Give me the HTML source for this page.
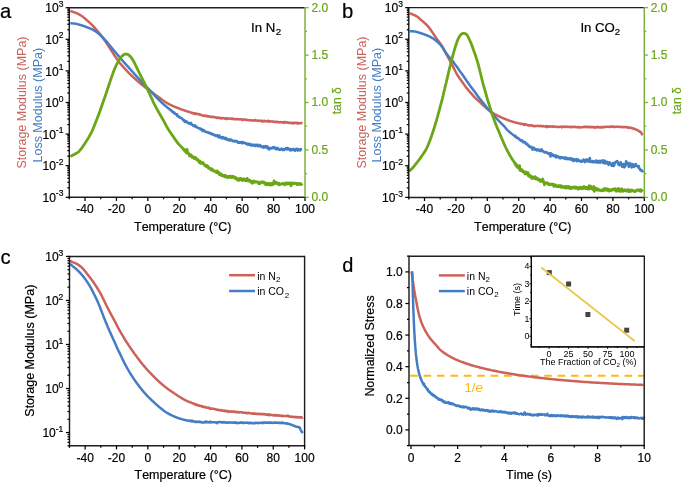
<!DOCTYPE html>
<html><head><meta charset="utf-8"><style>html,body{margin:0;padding:0;background:#fff;width:685px;height:483px;overflow:hidden}svg{display:block}</style></head>
<body><div style="will-change:transform">
<svg width="685" height="483" viewBox="0 0 685 483" font-family="'Liberation Sans', sans-serif" style="font-kerning:none">
<rect width="685" height="483" fill="#fff"/>
<path d="M70.3 10.9 L70.72 11.05 L71.15 11.21 L71.57 11.36 L71.99 11.51 L72.42 11.67 L72.84 11.82 L73.26 11.97 L73.68 12.13 L74.11 12.28 L74.53 12.43 L74.96 12.57 L75.39 12.71 L75.81 12.87 L76.23 13.03 L76.65 13.2 L77.06 13.38 L77.46 13.58 L77.86 13.78 L78.26 13.98 L78.66 14.19 L79.06 14.41 L79.45 14.62 L79.85 14.84 L80.24 15.07 L80.62 15.3 L81 15.54 L81.38 15.78 L81.76 16.03 L82.13 16.29 L82.49 16.55 L82.85 16.82 L83.2 17.1 L83.55 17.38 L83.9 17.67 L84.25 17.96 L84.59 18.25 L84.93 18.55 L85.27 18.84 L85.61 19.14 L85.95 19.43 L86.29 19.73 L86.63 20.02 L86.97 20.32 L87.31 20.61 L87.65 20.9 L87.99 21.19 L88.33 21.49 L88.67 21.78 L89.01 22.08 L89.35 22.38 L89.68 22.68 L90.02 22.98 L90.35 23.29 L90.68 23.59 L91 23.91 L91.32 24.22 L91.64 24.54 L91.95 24.86 L92.27 25.18 L92.58 25.51 L92.89 25.84 L93.19 26.17 L93.5 26.5 L93.8 26.83 L94.1 27.16 L94.41 27.5 L94.71 27.83 L95 28.17 L95.3 28.51 L95.6 28.84 L95.9 29.18 L96.19 29.52 L96.49 29.86 L96.78 30.2 L97.08 30.54 L97.37 30.88 L97.67 31.22 L97.96 31.56 L98.25 31.91 L98.54 32.25 L98.83 32.6 L99.11 32.95 L99.4 33.29 L99.68 33.64 L99.96 34 L100.24 34.35 L100.52 34.7 L100.79 35.06 L101.07 35.42 L101.34 35.77 L101.61 36.13 L101.88 36.5 L102.14 36.86 L102.41 37.22 L102.68 37.58 L102.94 37.95 L103.2 38.31 L103.46 38.68 L103.72 39.05 L103.98 39.41 L104.24 39.78 L104.5 40.15 L104.76 40.52 L105.02 40.89 L105.27 41.26 L105.53 41.63 L105.78 42 L106.03 42.37 L106.28 42.75 L106.53 43.12 L106.78 43.5 L107.03 43.87 L107.27 44.25 L107.52 44.63 L107.77 45 L108.01 45.38 L108.25 45.76 L108.5 46.14 L108.74 46.52 L108.99 46.89 L109.23 47.27 L109.48 47.65 L109.72 48.03 L109.97 48.4 L110.21 48.78 L110.46 49.16 L110.7 49.54 L110.94 49.92 L111.18 50.3 L111.43 50.68 L111.67 51.06 L111.91 51.44 L112.15 51.81 L112.39 52.19 L112.63 52.57 L112.88 52.95 L113.12 53.33 L113.36 53.71 L113.61 54.09 L113.85 54.47 L114.1 54.84 L114.35 55.22 L114.59 55.59 L114.84 55.97 L115.1 56.34 L115.35 56.71 L115.6 57.09 L115.85 57.46 L116.11 57.83 L116.36 58.2 L116.62 58.57 L116.87 58.94 L117.13 59.31 L117.39 59.68 L117.65 60.05 L117.91 60.41 L118.17 60.78 L118.44 61.14 L118.71 61.5 L118.98 61.86 L119.25 62.22 L119.53 62.58 L119.8 62.93 L120.09 63.28 L120.37 63.63 L120.66 63.97 L120.95 64.31 L121.25 64.65 L121.55 64.99 L121.85 65.33 L122.15 65.66 L122.45 65.99 L122.76 66.32 L123.06 66.65 L123.37 66.98 L123.67 67.31 L123.98 67.65 L124.28 67.98 L124.58 68.31 L124.88 68.65 L125.18 68.98 L125.49 69.32 L125.79 69.65 L126.09 69.98 L126.39 70.32 L126.69 70.65 L127 70.98 L127.3 71.31 L127.61 71.64 L127.92 71.97 L128.23 72.3 L128.54 72.62 L128.85 72.95 L129.17 73.27 L129.48 73.59 L129.8 73.9 L130.12 74.22 L130.44 74.54 L130.77 74.85 L131.09 75.16 L131.42 75.47 L131.75 75.78 L132.07 76.08 L132.4 76.39 L132.73 76.7 L133.06 77 L133.39 77.31 L133.72 77.61 L134.06 77.92 L134.39 78.22 L134.72 78.53 L135.05 78.83 L135.39 79.13 L135.72 79.43 L136.06 79.73 L136.39 80.03 L136.73 80.33 L137.07 80.63 L137.41 80.92 L137.74 81.22 L138.08 81.51 L138.43 81.81 L138.77 82.1 L139.11 82.39 L139.45 82.69 L139.79 82.98 L140.14 83.27 L140.48 83.56 L140.83 83.84 L141.18 84.13 L141.52 84.42 L141.87 84.7 L142.22 84.98 L142.57 85.26 L142.93 85.54 L143.28 85.82 L143.64 86.09 L144 86.37 L144.36 86.63 L144.72 86.9 L145.08 87.17 L145.45 87.43 L145.81 87.7 L146.18 87.96 L146.54 88.22 L146.9 88.49 L147.27 88.75 L147.63 89.02 L147.99 89.29 L148.35 89.56 L148.71 89.83 L149.07 90.1 L149.44 90.36 L149.8 90.63 L150.16 90.9 L150.52 91.17 L150.88 91.44 L151.24 91.71 L151.6 91.98 L151.96 92.25 L152.32 92.52 L152.68 92.79 L153.04 93.05 L153.4 93.32 L153.76 93.59 L154.12 93.86 L154.48 94.13 L154.84 94.4 L155.2 94.67 L155.57 94.94 L155.93 95.21 L156.29 95.48 L156.65 95.74 L157.01 96.01 L157.38 96.28 L157.74 96.54 L158.11 96.8 L158.47 97.07 L158.84 97.33 L159.2 97.59 L159.57 97.85 L159.93 98.11 L160.3 98.38 L160.67 98.64 L161.03 98.9 L161.4 99.16 L161.77 99.42 L162.13 99.68 L162.5 99.95 L162.86 100.21 L163.22 100.48 L163.59 100.74 L163.95 101.01 L164.32 101.27 L164.69 101.53 L165.06 101.78 L165.43 102.03 L165.81 102.28 L166.19 102.52 L166.57 102.75 L166.96 102.98 L167.35 103.21 L167.74 103.44 L168.13 103.66 L168.52 103.87 L168.92 104.09 L169.32 104.3 L169.72 104.5 L170.12 104.71 L170.52 104.91 L170.92 105.11 L171.33 105.3 L171.74 105.49 L172.15 105.68 L172.56 105.86 L172.97 106.04 L173.39 106.22 L173.8 106.39 L174.21 106.57 L174.63 106.74 L175.04 106.92 L175.46 107.09 L175.87 107.27 L176.29 107.44 L176.71 107.61 L177.12 107.77 L177.54 107.94 L177.96 108.11 L178.38 108.27 L178.8 108.43 L179.22 108.59 L179.64 108.75 L180.06 108.91 L180.48 109.07 L180.91 109.22 L181.33 109.37 L181.75 109.52 L182.18 109.67 L182.6 109.82 L183.03 109.97 L183.45 110.12 L183.88 110.26 L184.31 110.4 L184.73 110.54 L185.16 110.69 L185.59 110.82 L186.02 110.96 L186.45 111.1 L186.88 111.24 L187.3 111.37 L187.73 111.51 L188.16 111.64 L188.59 111.77 L189.02 111.91 L189.45 112.04 L189.88 112.18 L190.31 112.35 L190.74 112.54 L191.17 112.53 L191.6 112.92 L192.03 112.79 L192.46 112.92 L192.89 113.35 L193.33 113.58 L193.76 113.46 L194.2 113.2 L194.63 113.27 L195.07 113.98 L195.51 113.53 L195.94 113.55 L196.38 113.7 L196.82 113.99 L197.26 114.03 L197.7 113.88 L198.14 114.33 L198.58 114.05 L199.02 114.18 L199.46 114.38 L199.89 114.34 L200.33 114.95 L200.77 114.8 L201.21 114.97 L201.65 115 L202.09 115.21 L202.53 115.17 L202.97 115.76 L203.41 115.73 L203.85 115.68 L204.29 115.57 L204.73 116.03 L205.17 115.77 L205.61 115.8 L206.06 115.64 L206.5 116.22 L206.94 115.81 L207.39 116.42 L207.83 116.3 L208.28 116.19 L208.72 116.23 L209.17 116.76 L209.61 116.46 L210.06 116.82 L210.5 116.87 L210.95 116.89 L211.39 116.68 L211.84 116.96 L212.28 116.78 L212.73 117.08 L213.17 117.08 L213.62 117.17 L214.06 116.93 L214.51 117.03 L214.95 117.19 L215.4 117.35 L215.84 117.7 L216.29 117.57 L216.74 117.88 L217.19 117.67 L217.63 117.51 L218.08 118.01 L218.53 117.62 L218.98 117.78 L219.43 117.86 L219.87 118.27 L220.32 117.88 L220.77 118.02 L221.22 118.39 L221.67 118.42 L222.12 118.16 L222.56 118.03 L223.01 118.1 L223.46 118.26 L223.91 118.17 L224.36 118.35 L224.81 118.56 L225.26 118.67 L225.7 118.19 L226.15 118.17 L226.6 119.18 L227.05 118.42 L227.5 118.35 L227.95 118.5 L228.4 118.73 L228.85 118.63 L229.29 118.67 L229.74 118.55 L230.19 118.39 L230.64 118.4 L231.09 118.67 L231.54 118.71 L231.99 118.97 L232.44 118.53 L232.89 118.93 L233.33 118.7 L233.78 119 L234.23 119.16 L234.68 119.07 L235.13 119.17 L235.58 119.24 L236.03 119.11 L236.48 118.91 L236.93 119.3 L237.38 119.27 L237.82 119.07 L238.27 119.19 L238.72 119.21 L239.17 119.28 L239.62 119.5 L240.07 119.34 L240.52 119.15 L240.97 119.19 L241.42 119.5 L241.86 119.65 L242.31 120.05 L242.76 119.39 L243.21 119.31 L243.66 119.53 L244.11 119.65 L244.56 119.83 L245.01 119.46 L245.46 119.4 L245.9 119.83 L246.35 119.65 L246.8 119.94 L247.25 119.96 L247.7 119.91 L248.15 120.23 L248.6 120.28 L249.05 120.06 L249.5 120.35 L249.94 120.21 L250.39 120.38 L250.84 120.26 L251.29 120.17 L251.74 120.53 L252.19 120.51 L252.64 120.66 L253.09 120.43 L253.54 120.32 L253.98 120.59 L254.43 120.18 L254.88 120.43 L255.33 119.86 L255.78 120.42 L256.23 120.58 L256.68 120.48 L257.13 120.73 L257.58 120.63 L258.02 120.76 L258.47 120.68 L258.92 120.57 L259.37 120.82 L259.82 120.7 L260.27 120.63 L260.72 121.07 L261.17 120.95 L261.62 120.77 L262.06 120.9 L262.51 121.57 L262.96 120.83 L263.41 121.1 L263.86 121.25 L264.31 121.08 L264.76 120.86 L265.21 121.04 L265.66 121.33 L266.11 121.11 L266.55 121.33 L267 121.18 L267.45 121.06 L267.9 121.48 L268.35 120.87 L268.8 121.69 L269.25 121.25 L269.7 121.44 L270.15 121.2 L270.6 121.3 L271.04 121.47 L271.49 121.42 L271.94 121.53 L272.39 121.38 L272.84 121.64 L273.29 121.78 L273.74 121.5 L274.19 121.86 L274.64 121.67 L275.09 122.05 L275.54 122.15 L275.99 121.74 L276.43 122.09 L276.88 121.79 L277.33 122.19 L277.78 122.02 L278.23 121.86 L278.68 122.25 L279.13 122.44 L279.58 122.23 L280.03 122.26 L280.48 122.05 L280.93 122.05 L281.38 122.32 L281.83 122.14 L282.28 122.18 L282.73 122.61 L283.17 122.15 L283.62 122.63 L284.07 122.32 L284.52 122.43 L284.97 121.92 L285.42 122.61 L285.87 122.41 L286.32 122.4 L286.77 122.29 L287.22 122.23 L287.67 122.63 L288.12 122.64 L288.57 122.68 L289.02 122.93 L289.47 122.6 L289.92 122.9 L290.37 122.97 L290.82 123.04 L291.26 122.99 L291.71 122.82 L292.16 122.67 L292.61 123.46 L293.06 123.19 L293.51 122.72 L293.96 123.21 L294.41 122.84 L294.86 122.76 L295.31 122.98 L295.76 122.76 L296.21 122.99 L296.66 122.73 L297.11 122.91 L297.56 123.65 L298.01 122.85 L298.46 123.04 L298.91 123.29 L299.36 123.34 L299.81 123.28 L300.26 123.21 L300.71 122.94 L301.15 123.03 L301.6 123.22 L302.05 123 L302.3 123.19" fill="none" stroke="#CC625A" stroke-width="2.5" stroke-linejoin="round" stroke-linecap="butt"/>
<path d="M70.3 23.2 L70.75 23.23 L71.2 23.27 L71.65 23.3 L72.1 23.33 L72.54 23.37 L72.99 23.41 L73.44 23.46 L73.89 23.51 L74.33 23.57 L74.78 23.63 L75.22 23.69 L75.67 23.76 L76.11 23.84 L76.55 23.93 L76.99 24.03 L77.43 24.13 L77.87 24.24 L78.3 24.36 L78.73 24.48 L79.16 24.61 L79.6 24.74 L80.03 24.87 L80.46 25 L80.88 25.14 L81.31 25.28 L81.74 25.42 L82.17 25.56 L82.6 25.7 L83.02 25.84 L83.45 25.99 L83.87 26.14 L84.3 26.29 L84.72 26.44 L85.14 26.6 L85.56 26.75 L85.99 26.91 L86.41 27.07 L86.83 27.22 L87.25 27.38 L87.68 27.53 L88.1 27.68 L88.52 27.83 L88.95 27.99 L89.37 28.15 L89.79 28.31 L90.2 28.48 L90.62 28.66 L91.03 28.84 L91.43 29.04 L91.84 29.24 L92.24 29.44 L92.63 29.65 L93.03 29.87 L93.42 30.08 L93.81 30.31 L94.2 30.54 L94.58 30.77 L94.96 31.01 L95.34 31.26 L95.72 31.51 L96.09 31.76 L96.46 32.02 L96.82 32.28 L97.18 32.55 L97.54 32.83 L97.89 33.1 L98.25 33.38 L98.6 33.67 L98.94 33.95 L99.29 34.24 L99.63 34.54 L99.97 34.83 L100.3 35.13 L100.64 35.43 L100.97 35.74 L101.3 36.04 L101.62 36.35 L101.95 36.67 L102.27 36.98 L102.59 37.3 L102.91 37.61 L103.23 37.93 L103.54 38.26 L103.85 38.58 L104.16 38.91 L104.47 39.23 L104.78 39.56 L105.08 39.89 L105.39 40.23 L105.69 40.56 L105.99 40.9 L106.28 41.24 L106.58 41.58 L106.87 41.92 L107.16 42.26 L107.45 42.61 L107.73 42.96 L108.02 43.3 L108.31 43.65 L108.59 44 L108.88 44.34 L109.16 44.69 L109.45 45.04 L109.73 45.39 L110.02 45.74 L110.31 46.08 L110.59 46.43 L110.87 46.78 L111.15 47.13 L111.43 47.49 L111.71 47.84 L111.99 48.19 L112.27 48.54 L112.56 48.89 L112.84 49.24 L113.12 49.59 L113.41 49.94 L113.69 50.29 L113.98 50.64 L114.27 50.98 L114.56 51.32 L114.85 51.67 L115.14 52.01 L115.44 52.35 L115.73 52.69 L116.02 53.03 L116.32 53.38 L116.61 53.72 L116.9 54.06 L117.2 54.4 L117.49 54.74 L117.78 55.08 L118.08 55.42 L118.37 55.76 L118.66 56.11 L118.96 56.45 L119.25 56.79 L119.54 57.13 L119.84 57.47 L120.13 57.81 L120.42 58.15 L120.72 58.49 L121.01 58.83 L121.3 59.17 L121.6 59.51 L121.89 59.85 L122.19 60.2 L122.48 60.54 L122.78 60.88 L123.07 61.21 L123.37 61.55 L123.67 61.89 L123.97 62.23 L124.27 62.56 L124.57 62.9 L124.87 63.23 L125.17 63.57 L125.47 63.9 L125.77 64.23 L126.08 64.57 L126.38 64.9 L126.68 65.23 L126.98 65.57 L127.29 65.9 L127.59 66.23 L127.89 66.57 L128.19 66.9 L128.49 67.23 L128.79 67.57 L129.09 67.9 L129.39 68.24 L129.69 68.58 L129.99 68.91 L130.29 69.25 L130.59 69.59 L130.88 69.93 L131.18 70.26 L131.48 70.6 L131.77 70.94 L132.07 71.28 L132.37 71.61 L132.67 71.95 L132.97 72.29 L133.27 72.63 L133.57 72.96 L133.87 73.3 L134.17 73.63 L134.47 73.97 L134.77 74.3 L135.07 74.64 L135.37 74.97 L135.67 75.31 L135.97 75.64 L136.27 75.97 L136.57 76.31 L136.87 76.64 L137.18 76.97 L137.48 77.31 L137.78 77.64 L138.09 77.97 L138.39 78.3 L138.7 78.63 L139.01 78.96 L139.31 79.29 L139.62 79.62 L139.93 79.95 L140.23 80.28 L140.54 80.61 L140.85 80.93 L141.16 81.26 L141.47 81.59 L141.78 81.91 L142.09 82.24 L142.4 82.57 L142.71 82.89 L143.02 83.22 L143.33 83.54 L143.64 83.87 L143.96 84.19 L144.27 84.51 L144.58 84.83 L144.9 85.16 L145.21 85.48 L145.53 85.8 L145.85 86.12 L146.16 86.44 L146.47 86.76 L146.78 87.09 L147.1 87.41 L147.41 87.74 L147.72 88.07 L148.02 88.39 L148.33 88.72 L148.64 89.05 L148.95 89.38 L149.26 89.71 L149.56 90.03 L149.87 90.36 L150.18 90.69 L150.49 91.02 L150.79 91.35 L151.1 91.68 L151.4 92.01 L151.71 92.34 L152.01 92.67 L152.32 93 L152.63 93.33 L152.93 93.66 L153.24 93.99 L153.55 94.32 L153.86 94.65 L154.16 94.97 L154.47 95.3 L154.78 95.63 L155.09 95.96 L155.4 96.28 L155.71 96.61 L156.02 96.94 L156.32 97.27 L156.64 97.59 L156.95 97.92 L157.26 98.24 L157.57 98.56 L157.89 98.88 L158.2 99.2 L158.52 99.52 L158.84 99.84 L159.16 100.15 L159.49 100.47 L159.81 100.78 L160.14 101.09 L160.46 101.4 L160.79 101.71 L161.12 102.01 L161.45 102.32 L161.78 102.63 L162.11 102.93 L162.45 103.23 L162.78 103.53 L163.11 103.83 L163.45 104.13 L163.79 104.43 L164.12 104.73 L164.46 105.03 L164.8 105.32 L165.15 105.61 L165.49 105.91 L165.83 106.2 L166.17 106.49 L166.52 106.78 L166.86 107.06 L167.21 107.35 L167.56 107.64 L167.91 107.92 L168.26 108.21 L168.61 108.49 L168.96 108.77 L169.31 109.05 L169.67 109.32 L170.02 109.68 L170.38 109.54 L170.74 110.06 L171.09 110.71 L171.45 110.86 L171.8 110.76 L172.16 111.71 L172.51 111.9 L172.86 112.04 L173.22 112.04 L173.57 111.96 L173.92 113.03 L174.27 112.55 L174.61 113.59 L174.96 113.4 L175.31 113.59 L175.66 114.22 L176.01 114.05 L176.36 114.55 L176.72 115.02 L177.07 114.17 L177.42 115.95 L177.78 115.97 L178.13 115.99 L178.48 116.56 L178.83 116.44 L179.18 117.22 L179.53 116.78 L179.89 117.4 L180.24 117.46 L180.6 117.86 L180.96 117.85 L181.32 118.16 L181.69 118.28 L182.06 118.81 L182.44 119.17 L182.81 119.27 L183.19 120.14 L183.58 120.41 L183.96 120.64 L184.35 120.24 L184.74 122.1 L185.13 121.38 L185.52 120.95 L185.91 121.23 L186.3 121.56 L186.7 121.61 L187.09 122.5 L187.48 122.19 L187.88 122.88 L188.27 122.85 L188.67 123.25 L189.06 123.52 L189.46 123.1 L189.85 124.03 L190.25 123.83 L190.65 124.26 L191.04 122.84 L191.44 124.07 L191.84 124.51 L192.24 124.71 L192.64 125.02 L193.04 125.6 L193.44 125.33 L193.84 125.98 L194.24 125.92 L194.64 125.95 L195.05 125.38 L195.45 126.87 L195.85 127.07 L196.26 126.94 L196.66 126.75 L197.07 127.16 L197.47 127.71 L197.88 127.87 L198.28 128 L198.69 128.09 L199.09 128.31 L199.49 128.76 L199.9 128.41 L200.3 129.18 L200.7 129.49 L201.11 128.83 L201.51 129.35 L201.91 129.7 L202.31 129.48 L202.72 131.25 L203.12 129.97 L203.52 130.12 L203.93 130.23 L204.33 130.64 L204.74 130.95 L205.14 131.49 L205.55 131.8 L205.96 132.02 L206.37 132.15 L206.78 132.17 L207.2 131.95 L207.61 132.28 L208.03 132.15 L208.44 133.06 L208.86 132.54 L209.27 133.24 L209.69 133.11 L210.11 133.16 L210.52 133.25 L210.94 133.87 L211.36 133.46 L211.78 133.52 L212.19 134.37 L212.61 134.19 L213.03 134.28 L213.45 134.58 L213.87 135.02 L214.29 135.19 L214.72 134.81 L215.14 135.62 L215.56 135.54 L215.98 136.01 L216.4 135.83 L216.82 135.28 L217.24 136.1 L217.67 135.26 L218.09 135.74 L218.51 136.94 L218.93 137.49 L219.36 135.51 L219.78 137.1 L220.21 137.06 L220.63 136.93 L221.06 137.74 L221.49 137.59 L221.92 138.34 L222.34 137.1 L222.77 137.08 L223.2 138.2 L223.63 137.28 L224.06 138.43 L224.49 137.95 L224.92 138.95 L225.35 138.13 L225.78 139.2 L226.21 138.01 L226.64 139.29 L227.08 139.78 L227.51 139.41 L227.94 140.07 L228.38 139.5 L228.81 139.5 L229.25 140.26 L229.68 140.61 L230.12 139.39 L230.56 139.49 L230.99 139.69 L231.43 140.15 L231.87 140.09 L232.3 140.87 L232.74 141.05 L233.17 141.28 L233.61 140.98 L234.05 140.67 L234.49 141.11 L234.92 141.38 L235.36 141.01 L235.8 140.8 L236.23 141.49 L236.67 141.11 L237.11 141.41 L237.55 141.68 L237.98 142.6 L238.42 142.22 L238.86 142.72 L239.29 142.36 L239.73 142.76 L240.16 142.01 L240.6 142.51 L241.04 142.11 L241.47 142.96 L241.91 143.11 L242.35 142.07 L242.79 143.24 L243.23 142.27 L243.67 142.56 L244.11 142.58 L244.55 142.77 L244.99 143.06 L245.43 143.42 L245.87 143.23 L246.31 143.25 L246.75 144.27 L247.19 144.23 L247.64 144.64 L248.08 144.08 L248.52 143.68 L248.97 144.67 L249.41 144.48 L249.86 144.65 L250.3 144.17 L250.75 145.46 L251.19 144.89 L251.64 144.6 L252.08 145.63 L252.53 144.83 L252.98 144.66 L253.42 145.03 L253.87 144.84 L254.31 145.89 L254.76 144.69 L255.2 146.04 L255.65 145.03 L256.09 145.43 L256.53 145.56 L256.97 145.62 L257.41 144.66 L257.85 146.31 L258.29 146.03 L258.73 145.53 L259.18 145.45 L259.62 146.16 L260.06 145.02 L260.5 146.01 L260.95 146.13 L261.39 146.99 L261.84 146.54 L262.28 146.64 L262.73 146.9 L263.17 146.26 L263.62 147.83 L264.06 146.62 L264.51 147.36 L264.96 147.22 L265.4 145.97 L265.85 146.6 L266.3 146.75 L266.74 147.7 L267.19 146.19 L267.63 147.24 L268.08 147.26 L268.53 149.29 L268.97 148.48 L269.42 149.47 L269.86 147.92 L270.31 147.97 L270.76 148.13 L271.2 147.93 L271.65 148.46 L272.09 148.28 L272.54 148.32 L272.99 147.21 L273.44 147.91 L273.88 147.08 L274.33 147.16 L274.78 148.01 L275.23 148.64 L275.68 148.98 L276.13 149.34 L276.58 147.84 L277.02 148.98 L277.47 148.22 L277.92 148.06 L278.37 148.88 L278.82 149.78 L279.27 149.38 L279.72 149.62 L280.17 150.03 L280.62 149.33 L281.07 149.13 L281.52 148.56 L281.97 149.02 L282.42 149.41 L282.86 150.08 L283.31 149.25 L283.76 149.05 L284.21 149.94 L284.66 149.38 L285.11 149.06 L285.56 148.54 L286.01 148.15 L286.45 149.08 L286.9 149.35 L287.35 147.96 L287.8 149.19 L288.25 148.39 L288.7 149.23 L289.15 148.81 L289.6 149.73 L290.05 150.44 L290.49 149.11 L290.94 149.48 L291.39 150.23 L291.84 149.13 L292.29 149.31 L292.74 149.9 L293.19 149.48 L293.64 148.89 L294.09 149.93 L294.54 150.38 L294.99 150.68 L295.43 150.03 L295.88 149.16 L296.33 149.7 L296.78 148.76 L297.23 149.05 L297.68 150.52 L298.13 149.13 L298.58 149.2 L299.03 150.19 L299.48 149.59 L299.93 149.49 L300.37 150.38 L300.82 148.93 L301.27 150.03 L301.7 150.26" fill="none" stroke="#437DC4" stroke-width="2.5" stroke-linejoin="round" stroke-linecap="butt"/>
<path d="M70.3 156.5 L70.7 156.29 L71.1 156.08 L71.5 155.87 L71.89 155.66 L72.29 155.45 L72.69 155.24 L73.09 155.03 L73.48 154.82 L73.88 154.6 L74.28 154.39 L74.67 154.18 L75.07 153.97 L75.47 153.76 L75.87 153.55 L76.26 153.34 L76.66 153.12 L77.04 152.89 L77.42 152.65 L77.8 152.4 L78.16 152.13 L78.51 151.85 L78.83 151.54 L79.14 151.21 L79.44 150.87 L79.73 150.53 L80.03 150.19 L80.31 149.84 L80.6 149.49 L80.88 149.14 L81.16 148.79 L81.44 148.43 L81.71 148.08 L81.98 147.72 L82.25 147.36 L82.52 146.99 L82.78 146.63 L83.04 146.26 L83.29 145.89 L83.55 145.52 L83.8 145.15 L84.05 144.77 L84.29 144.4 L84.54 144.02 L84.78 143.64 L85.02 143.26 L85.27 142.88 L85.51 142.5 L85.75 142.12 L85.99 141.74 L86.23 141.36 L86.47 140.98 L86.71 140.6 L86.95 140.22 L87.18 139.83 L87.42 139.45 L87.66 139.07 L87.9 138.69 L88.13 138.3 L88.37 137.92 L88.6 137.53 L88.83 137.15 L89.05 136.76 L89.28 136.37 L89.5 135.98 L89.72 135.58 L89.94 135.19 L90.15 134.8 L90.37 134.4 L90.58 134 L90.79 133.6 L91 133.21 L91.2 132.8 L91.41 132.4 L91.6 132 L91.8 131.59 L92 131.19 L92.19 130.78 L92.38 130.37 L92.56 129.96 L92.74 129.55 L92.92 129.14 L93.1 128.72 L93.27 128.31 L93.44 127.89 L93.61 127.48 L93.78 127.06 L93.95 126.64 L94.11 126.22 L94.28 125.8 L94.44 125.38 L94.6 124.97 L94.77 124.55 L94.93 124.13 L95.1 123.71 L95.26 123.29 L95.43 122.87 L95.6 122.45 L95.76 122.04 L95.93 121.62 L96.09 121.2 L96.26 120.78 L96.42 120.36 L96.59 119.94 L96.75 119.52 L96.92 119.11 L97.08 118.69 L97.25 118.27 L97.41 117.85 L97.57 117.43 L97.73 117.01 L97.9 116.59 L98.06 116.17 L98.22 115.75 L98.38 115.33 L98.54 114.91 L98.7 114.49 L98.86 114.07 L99.02 113.65 L99.18 113.22 L99.33 112.8 L99.49 112.38 L99.65 111.96 L99.8 111.54 L99.95 111.11 L100.11 110.69 L100.26 110.27 L100.41 109.84 L100.56 109.42 L100.71 108.99 L100.86 108.57 L101.01 108.14 L101.15 107.72 L101.29 107.29 L101.43 106.86 L101.57 106.44 L101.72 106.01 L101.86 105.58 L102 105.16 L102.15 104.73 L102.29 104.3 L102.44 103.88 L102.59 103.45 L102.74 103.03 L102.89 102.61 L103.04 102.18 L103.19 101.76 L103.34 101.33 L103.5 100.91 L103.65 100.49 L103.8 100.06 L103.95 99.64 L104.1 99.22 L104.25 98.79 L104.4 98.37 L104.55 97.94 L104.7 97.52 L104.85 97.09 L105 96.67 L105.15 96.24 L105.29 95.82 L105.44 95.39 L105.58 94.97 L105.73 94.54 L105.87 94.11 L106.02 93.69 L106.16 93.26 L106.3 92.83 L106.44 92.41 L106.58 91.98 L106.73 91.55 L106.87 91.13 L107.01 90.7 L107.15 90.27 L107.29 89.84 L107.43 89.42 L107.57 88.99 L107.71 88.56 L107.86 88.13 L108 87.71 L108.14 87.28 L108.28 86.85 L108.42 86.43 L108.56 86 L108.71 85.57 L108.85 85.14 L108.99 84.72 L109.13 84.29 L109.27 83.86 L109.41 83.43 L109.55 83.01 L109.69 82.58 L109.83 82.15 L109.98 81.73 L110.12 81.3 L110.26 80.87 L110.41 80.45 L110.55 80.02 L110.7 79.59 L110.84 79.17 L110.99 78.74 L111.14 78.32 L111.28 77.89 L111.43 77.47 L111.58 77.04 L111.73 76.62 L111.88 76.19 L112.03 75.77 L112.18 75.35 L112.33 74.92 L112.48 74.5 L112.64 74.08 L112.79 73.65 L112.94 73.23 L113.1 72.81 L113.25 72.39 L113.41 71.96 L113.57 71.54 L113.73 71.12 L113.89 70.7 L114.06 70.28 L114.22 69.86 L114.39 69.45 L114.56 69.03 L114.73 68.62 L114.91 68.2 L115.09 67.79 L115.27 67.38 L115.45 66.96 L115.64 66.55 L115.83 66.15 L116.02 65.74 L116.21 65.33 L116.41 64.93 L116.61 64.53 L116.81 64.13 L117.02 63.73 L117.24 63.33 L117.45 62.93 L117.67 62.54 L117.89 62.15 L118.1 61.75 L118.32 61.36 L118.54 60.97 L118.76 60.57 L118.98 60.18 L119.21 59.8 L119.44 59.41 L119.68 59.03 L119.92 58.65 L120.18 58.28 L120.44 57.91 L120.71 57.55 L120.99 57.2 L121.29 56.86 L121.59 56.53 L121.9 56.2 L122.23 55.89 L122.56 55.59 L122.91 55.31 L123.27 55.04 L123.65 54.79 L124.04 54.56 L124.44 54.37 L124.86 54.21 L125.3 54.1 L125.75 54.05 L126.19 54.06 L126.64 54.13 L127.08 54.23 L127.5 54.38 L127.92 54.56 L128.31 54.78 L128.68 55.03 L129.03 55.31 L129.37 55.6 L129.7 55.91 L130.02 56.22 L130.34 56.55 L130.64 56.88 L130.94 57.22 L131.22 57.56 L131.5 57.92 L131.77 58.28 L132.03 58.65 L132.28 59.02 L132.53 59.4 L132.77 59.78 L133 60.17 L133.22 60.56 L133.44 60.95 L133.66 61.34 L133.87 61.74 L134.08 62.13 L134.29 62.53 L134.49 62.94 L134.69 63.34 L134.89 63.74 L135.09 64.15 L135.29 64.55 L135.48 64.96 L135.68 65.36 L135.87 65.77 L136.07 66.17 L136.26 66.58 L136.45 66.99 L136.64 67.4 L136.83 67.8 L137.02 68.21 L137.22 68.62 L137.41 69.02 L137.61 69.43 L137.8 69.83 L138 70.24 L138.19 70.64 L138.39 71.05 L138.58 71.45 L138.78 71.86 L138.98 72.26 L139.18 72.66 L139.38 73.07 L139.59 73.47 L139.8 73.87 L140 74.27 L140.21 74.67 L140.42 75.06 L140.62 75.47 L140.83 75.87 L141.03 76.27 L141.24 76.67 L141.44 77.07 L141.64 77.47 L141.84 77.87 L142.05 78.28 L142.25 78.68 L142.45 79.08 L142.66 79.48 L142.86 79.88 L143.06 80.29 L143.26 80.69 L143.46 81.09 L143.66 81.49 L143.86 81.9 L144.06 82.3 L144.26 82.7 L144.46 83.11 L144.66 83.51 L144.86 83.91 L145.05 84.32 L145.25 84.72 L145.44 85.13 L145.64 85.54 L145.83 85.94 L146.03 86.35 L146.22 86.75 L146.41 87.16 L146.6 87.57 L146.8 87.97 L146.99 88.38 L147.18 88.79 L147.37 89.2 L147.56 89.6 L147.76 90.01 L147.95 90.42 L148.14 90.82 L148.33 91.23 L148.52 91.64 L148.72 92.05 L148.91 92.45 L149.1 92.86 L149.29 93.27 L149.48 93.67 L149.67 94.08 L149.87 94.49 L150.06 94.9 L150.25 95.3 L150.44 95.71 L150.63 96.12 L150.82 96.53 L151.01 96.93 L151.2 97.34 L151.39 97.75 L151.57 98.16 L151.76 98.57 L151.94 98.98 L152.12 99.39 L152.3 99.81 L152.48 100.22 L152.66 100.63 L152.84 101.05 L153.02 101.46 L153.21 101.87 L153.4 102.27 L153.59 102.68 L153.79 103.08 L153.99 103.49 L154.2 103.89 L154.4 104.29 L154.61 104.68 L154.82 105.08 L155.03 105.48 L155.24 105.88 L155.46 106.27 L155.67 106.67 L155.88 107.07 L156.1 107.46 L156.31 107.86 L156.53 108.25 L156.74 108.65 L156.96 109.04 L157.18 109.44 L157.4 109.83 L157.61 110.22 L157.83 110.62 L158.05 111.01 L158.27 111.4 L158.49 111.8 L158.71 112.19 L158.93 112.58 L159.15 112.97 L159.37 113.37 L159.59 113.76 L159.82 114.15 L160.04 114.54 L160.27 114.93 L160.49 115.32 L160.72 115.71 L160.94 116.09 L161.17 116.48 L161.4 116.87 L161.62 117.26 L161.85 117.65 L162.07 118.04 L162.3 118.43 L162.52 118.82 L162.74 119.21 L162.96 119.6 L163.19 120 L163.41 120.39 L163.62 120.78 L163.84 121.18 L164.05 121.57 L164.26 121.97 L164.48 122.37 L164.69 122.77 L164.89 123.16 L165.1 123.56 L165.31 123.96 L165.52 124.36 L165.73 124.76 L165.94 125.15 L166.16 125.55 L166.37 125.95 L166.59 126.34 L166.8 126.74 L167.02 127.13 L167.25 127.52 L167.47 127.91 L167.7 128.3 L167.93 128.68 L168.16 129.07 L168.4 129.45 L168.64 129.83 L168.88 130.21 L169.13 130.59 L169.37 130.97 L169.62 131.34 L169.87 131.72 L170.12 132.09 L170.37 132.47 L170.62 132.84 L170.87 133.21 L171.12 133.58 L171.38 133.96 L171.63 134.33 L171.89 134.7 L172.15 135.07 L172.4 135.44 L172.66 135.81 L172.92 136.17 L173.17 136.54 L173.43 136.91 L173.69 137.28 L173.94 137.65 L174.2 138.02 L174.46 138.39 L174.71 138.76 L174.97 139.13 L175.23 139.5 L175.48 139.87 L175.74 140.24 L176 140.61 L176.26 140.97 L176.53 141.34 L176.79 141.7 L177.06 142.06 L177.34 142.42 L177.61 142.77 L177.89 143.12 L178.18 143.47 L178.47 143.82 L178.76 144.16 L179.06 144.5 L179.36 144.83 L179.67 145.16 L179.98 145.48 L180.29 145.81 L180.61 146.13 L180.93 146.45 L181.24 146.76 L181.57 147.08 L181.89 147.4 L182.21 147.71 L182.53 148.03 L182.85 148.35 L183.16 148.76 L183.48 149.6 L183.8 149.62 L184.12 149.7 L184.44 149.49 L184.76 151.34 L185.09 151.4 L185.41 150.75 L185.74 151.65 L186.07 151.92 L186.4 152.42 L186.73 153.11 L187.07 149.35 L187.41 152.09 L187.75 153.04 L188.09 152.71 L188.44 153.4 L188.79 154.08 L189.15 154.06 L189.5 155.99 L189.86 155.33 L190.22 155.1 L190.58 154.68 L190.94 155.49 L191.3 155.31 L191.66 155.62 L192.02 157.39 L192.38 156.93 L192.74 156.81 L193.1 156.88 L193.46 157.62 L193.83 158.16 L194.19 158.56 L194.56 157.82 L194.92 157.27 L195.28 158.1 L195.65 157.78 L196.01 159.05 L196.37 159.5 L196.73 159.49 L197.09 159.77 L197.45 159.14 L197.8 160.25 L198.15 160.47 L198.51 161.01 L198.86 160.55 L199.22 162.46 L199.58 160.84 L199.95 161.12 L200.31 161.44 L200.69 163.4 L201.07 162.47 L201.45 162.7 L201.84 163.29 L202.24 163.37 L202.63 163.44 L203.03 162.63 L203.42 163.94 L203.81 164 L204.2 164.05 L204.58 165.32 L204.96 165.41 L205.34 165.77 L205.72 166.11 L206.09 166.49 L206.47 165.38 L206.84 165.35 L207.22 165.75 L207.59 165.83 L207.97 166.41 L208.35 168.34 L208.73 167.58 L209.11 168.36 L209.49 168.11 L209.87 168.64 L210.26 168.5 L210.64 168.42 L211.02 170.01 L211.41 169.8 L211.8 169.57 L212.19 169.06 L212.58 170.09 L212.98 170.66 L213.38 171 L213.78 170.82 L214.18 170.64 L214.59 171.05 L214.99 171.15 L215.4 171.68 L215.8 172.02 L216.21 172.12 L216.61 172.67 L217.01 170.98 L217.42 171.11 L217.82 172.02 L218.22 172.93 L218.62 172.42 L219.02 172.58 L219.43 174.62 L219.83 174.54 L220.24 173.67 L220.65 174.37 L221.07 173.71 L221.48 175.59 L221.9 175.13 L222.32 175.81 L222.74 175.12 L223.16 176.05 L223.58 175.96 L224.01 175.78 L224.43 175.42 L224.86 176.94 L225.28 175.32 L225.71 176.34 L226.13 176.15 L226.56 176.1 L226.99 177.22 L227.42 176.81 L227.85 177.68 L228.28 177.42 L228.71 176.91 L229.15 176.18 L229.58 176.1 L230.02 176.18 L230.45 176.98 L230.89 177.5 L231.33 176.75 L231.77 176.7 L232.21 176.24 L232.64 177.5 L233.08 176.66 L233.52 176.44 L233.96 177.31 L234.39 176.93 L234.83 177.49 L235.27 178.45 L235.71 177.49 L236.14 178.61 L236.58 178.77 L237.02 178.8 L237.46 180.17 L237.9 178.6 L238.34 179.09 L238.78 180.28 L239.23 180.29 L239.67 179.65 L240.11 178.4 L240.55 179.71 L240.99 178.53 L241.44 179.34 L241.88 179.27 L242.32 180.5 L242.76 180.35 L243.2 178.82 L243.65 178.77 L244.09 179.49 L244.53 180.35 L244.97 180.22 L245.41 179.38 L245.86 180.78 L246.3 179.69 L246.74 180.46 L247.18 178.31 L247.63 179.69 L248.07 180.91 L248.51 179.96 L248.95 181.05 L249.4 180.24 L249.84 180.16 L250.29 181.69 L250.73 181.4 L251.17 181.48 L251.62 182.75 L252.06 182.27 L252.5 183.3 L252.95 181.08 L253.39 181.14 L253.84 181.02 L254.28 182.33 L254.72 181.81 L255.17 182.16 L255.61 181.71 L256.06 182.04 L256.5 182.07 L256.95 181.81 L257.39 182.26 L257.84 182.39 L258.29 182.04 L258.73 183.66 L259.18 183.26 L259.63 182.88 L260.08 183.54 L260.52 182.42 L260.97 181.9 L261.42 182.23 L261.87 181.89 L262.32 182.35 L262.77 182.49 L263.21 181.81 L263.66 182.39 L264.11 182.29 L264.56 183.69 L265.01 183.65 L265.46 184.37 L265.91 184.77 L266.36 183.21 L266.81 183.86 L267.26 184.7 L267.7 184.51 L268.15 183.22 L268.6 184.04 L269.05 184.66 L269.5 183.97 L269.95 185.08 L270.4 183.44 L270.85 184.81 L271.3 184.38 L271.75 183.71 L272.2 184.87 L272.65 184.35 L273.1 184.03 L273.55 183.72 L274 180.96 L274.45 183.9 L274.9 183.69 L275.35 182.87 L275.8 182.27 L276.25 182.77 L276.7 182.68 L277.15 183.37 L277.6 182.92 L278.05 184.23 L278.5 183.63 L278.95 183.23 L279.4 184.75 L279.85 184.31 L280.3 184.29 L280.75 184.2 L281.2 184.04 L281.65 183.96 L282.1 183.54 L282.55 183.96 L283 184.18 L283.45 183.88 L283.9 183.32 L284.35 184.08 L284.8 184.77 L285.25 183.56 L285.7 183.52 L286.15 183.81 L286.6 182.68 L287.05 183.51 L287.5 183.43 L287.95 184.14 L288.4 183.36 L288.85 182.96 L289.3 183.08 L289.75 183.86 L290.2 183.18 L290.65 184.48 L291.1 185.75 L291.55 182.86 L292 183.99 L292.45 183.55 L292.9 183.34 L293.35 182.99 L293.8 183.8 L294.25 183.44 L294.7 183.25 L295.15 183.07 L295.6 183.37 L296.05 183.68 L296.5 183.23 L296.95 184.63 L297.4 184.13 L297.85 184.15 L298.3 183.45 L298.75 184.22 L299.2 184.5 L299.65 183.55 L300.1 183.63 L300.55 183.48 L301 183.97 L301.45 184.49 L301.89 183.85 L302.2 183.42" fill="none" stroke="#6AA616" stroke-width="2.8" stroke-linejoin="round" stroke-linecap="butt"/>
<line x1="69.3" y1="7.7" x2="305" y2="7.7" stroke="#1e1e1e" stroke-width="1.45" />
<line x1="69.3" y1="7.1" x2="69.3" y2="197.9" stroke="#1e1e1e" stroke-width="1.45" />
<line x1="68.7" y1="197.3" x2="305" y2="197.3" stroke="#1e1e1e" stroke-width="1.45" />
<line x1="305" y1="7.1" x2="305" y2="197.9" stroke="#7DB03A" stroke-width="1.5" />
<line x1="65.7" y1="197.3" x2="69.3" y2="197.3" stroke="#000" stroke-width="1.25" />
<line x1="65.7" y1="165.7" x2="69.3" y2="165.7" stroke="#000" stroke-width="1.25" />
<line x1="65.7" y1="134.1" x2="69.3" y2="134.1" stroke="#000" stroke-width="1.25" />
<line x1="65.7" y1="102.5" x2="69.3" y2="102.5" stroke="#000" stroke-width="1.25" />
<line x1="65.7" y1="70.9" x2="69.3" y2="70.9" stroke="#000" stroke-width="1.25" />
<line x1="65.7" y1="39.3" x2="69.3" y2="39.3" stroke="#000" stroke-width="1.25" />
<line x1="65.7" y1="7.7" x2="69.3" y2="7.7" stroke="#000" stroke-width="1.25" />
<line x1="67.3" y1="187.79" x2="69.3" y2="187.79" stroke="#000" stroke-width="1.25" />
<line x1="67.3" y1="182.22" x2="69.3" y2="182.22" stroke="#000" stroke-width="1.25" />
<line x1="67.3" y1="178.27" x2="69.3" y2="178.27" stroke="#000" stroke-width="1.25" />
<line x1="67.3" y1="175.21" x2="69.3" y2="175.21" stroke="#000" stroke-width="1.25" />
<line x1="67.3" y1="172.71" x2="69.3" y2="172.71" stroke="#000" stroke-width="1.25" />
<line x1="67.3" y1="170.59" x2="69.3" y2="170.59" stroke="#000" stroke-width="1.25" />
<line x1="67.3" y1="168.76" x2="69.3" y2="168.76" stroke="#000" stroke-width="1.25" />
<line x1="67.3" y1="167.15" x2="69.3" y2="167.15" stroke="#000" stroke-width="1.25" />
<line x1="67.3" y1="156.19" x2="69.3" y2="156.19" stroke="#000" stroke-width="1.25" />
<line x1="67.3" y1="150.62" x2="69.3" y2="150.62" stroke="#000" stroke-width="1.25" />
<line x1="67.3" y1="146.67" x2="69.3" y2="146.67" stroke="#000" stroke-width="1.25" />
<line x1="67.3" y1="143.61" x2="69.3" y2="143.61" stroke="#000" stroke-width="1.25" />
<line x1="67.3" y1="141.11" x2="69.3" y2="141.11" stroke="#000" stroke-width="1.25" />
<line x1="67.3" y1="138.99" x2="69.3" y2="138.99" stroke="#000" stroke-width="1.25" />
<line x1="67.3" y1="137.16" x2="69.3" y2="137.16" stroke="#000" stroke-width="1.25" />
<line x1="67.3" y1="135.55" x2="69.3" y2="135.55" stroke="#000" stroke-width="1.25" />
<line x1="67.3" y1="124.59" x2="69.3" y2="124.59" stroke="#000" stroke-width="1.25" />
<line x1="67.3" y1="119.02" x2="69.3" y2="119.02" stroke="#000" stroke-width="1.25" />
<line x1="67.3" y1="115.07" x2="69.3" y2="115.07" stroke="#000" stroke-width="1.25" />
<line x1="67.3" y1="112.01" x2="69.3" y2="112.01" stroke="#000" stroke-width="1.25" />
<line x1="67.3" y1="109.51" x2="69.3" y2="109.51" stroke="#000" stroke-width="1.25" />
<line x1="67.3" y1="107.39" x2="69.3" y2="107.39" stroke="#000" stroke-width="1.25" />
<line x1="67.3" y1="105.56" x2="69.3" y2="105.56" stroke="#000" stroke-width="1.25" />
<line x1="67.3" y1="103.95" x2="69.3" y2="103.95" stroke="#000" stroke-width="1.25" />
<line x1="67.3" y1="92.99" x2="69.3" y2="92.99" stroke="#000" stroke-width="1.25" />
<line x1="67.3" y1="87.42" x2="69.3" y2="87.42" stroke="#000" stroke-width="1.25" />
<line x1="67.3" y1="83.47" x2="69.3" y2="83.47" stroke="#000" stroke-width="1.25" />
<line x1="67.3" y1="80.41" x2="69.3" y2="80.41" stroke="#000" stroke-width="1.25" />
<line x1="67.3" y1="77.91" x2="69.3" y2="77.91" stroke="#000" stroke-width="1.25" />
<line x1="67.3" y1="75.79" x2="69.3" y2="75.79" stroke="#000" stroke-width="1.25" />
<line x1="67.3" y1="73.96" x2="69.3" y2="73.96" stroke="#000" stroke-width="1.25" />
<line x1="67.3" y1="72.35" x2="69.3" y2="72.35" stroke="#000" stroke-width="1.25" />
<line x1="67.3" y1="61.39" x2="69.3" y2="61.39" stroke="#000" stroke-width="1.25" />
<line x1="67.3" y1="55.82" x2="69.3" y2="55.82" stroke="#000" stroke-width="1.25" />
<line x1="67.3" y1="51.87" x2="69.3" y2="51.87" stroke="#000" stroke-width="1.25" />
<line x1="67.3" y1="48.81" x2="69.3" y2="48.81" stroke="#000" stroke-width="1.25" />
<line x1="67.3" y1="46.31" x2="69.3" y2="46.31" stroke="#000" stroke-width="1.25" />
<line x1="67.3" y1="44.19" x2="69.3" y2="44.19" stroke="#000" stroke-width="1.25" />
<line x1="67.3" y1="42.36" x2="69.3" y2="42.36" stroke="#000" stroke-width="1.25" />
<line x1="67.3" y1="40.75" x2="69.3" y2="40.75" stroke="#000" stroke-width="1.25" />
<line x1="67.3" y1="29.79" x2="69.3" y2="29.79" stroke="#000" stroke-width="1.25" />
<line x1="67.3" y1="24.22" x2="69.3" y2="24.22" stroke="#000" stroke-width="1.25" />
<line x1="67.3" y1="20.27" x2="69.3" y2="20.27" stroke="#000" stroke-width="1.25" />
<line x1="67.3" y1="17.21" x2="69.3" y2="17.21" stroke="#000" stroke-width="1.25" />
<line x1="67.3" y1="14.71" x2="69.3" y2="14.71" stroke="#000" stroke-width="1.25" />
<line x1="67.3" y1="12.59" x2="69.3" y2="12.59" stroke="#000" stroke-width="1.25" />
<line x1="67.3" y1="10.76" x2="69.3" y2="10.76" stroke="#000" stroke-width="1.25" />
<line x1="67.3" y1="9.15" x2="69.3" y2="9.15" stroke="#000" stroke-width="1.25" />
<text x="63.4" y="201.9" font-size="12" text-anchor="end" stroke="#000" stroke-width="0.2">10<tspan font-size="8.5" dy="-5.5">-3</tspan></text>
<text x="63.4" y="170.3" font-size="12" text-anchor="end" stroke="#000" stroke-width="0.2">10<tspan font-size="8.5" dy="-5.5">-2</tspan></text>
<text x="63.4" y="138.7" font-size="12" text-anchor="end" stroke="#000" stroke-width="0.2">10<tspan font-size="8.5" dy="-5.5">-1</tspan></text>
<text x="63.4" y="107.1" font-size="12" text-anchor="end" stroke="#000" stroke-width="0.2">10<tspan font-size="8.5" dy="-5.5">0</tspan></text>
<text x="63.4" y="75.5" font-size="12" text-anchor="end" stroke="#000" stroke-width="0.2">10<tspan font-size="8.5" dy="-5.5">1</tspan></text>
<text x="63.4" y="43.9" font-size="12" text-anchor="end" stroke="#000" stroke-width="0.2">10<tspan font-size="8.5" dy="-5.5">2</tspan></text>
<text x="63.4" y="12.3" font-size="12" text-anchor="end" stroke="#000" stroke-width="0.2">10<tspan font-size="8.5" dy="-5.5">3</tspan></text>
<line x1="305" y1="197.3" x2="308.6" y2="197.3" stroke="#7DB03A" stroke-width="1.3" />
<line x1="305" y1="149.9" x2="308.6" y2="149.9" stroke="#7DB03A" stroke-width="1.3" />
<line x1="305" y1="102.5" x2="308.6" y2="102.5" stroke="#7DB03A" stroke-width="1.3" />
<line x1="305" y1="55.1" x2="308.6" y2="55.1" stroke="#7DB03A" stroke-width="1.3" />
<line x1="305" y1="7.7" x2="308.6" y2="7.7" stroke="#7DB03A" stroke-width="1.3" />
<line x1="305" y1="173.6" x2="307" y2="173.6" stroke="#7DB03A" stroke-width="1.3" />
<line x1="305" y1="126.2" x2="307" y2="126.2" stroke="#7DB03A" stroke-width="1.3" />
<line x1="305" y1="78.8" x2="307" y2="78.8" stroke="#7DB03A" stroke-width="1.3" />
<line x1="305" y1="31.4" x2="307" y2="31.4" stroke="#7DB03A" stroke-width="1.3" />
<text x="311.4" y="201.2" font-size="12" text-anchor="start" fill="#6AA616"  stroke="#6AA616" stroke-width="0.2">0.0</text>
<text x="311.4" y="153.8" font-size="12" text-anchor="start" fill="#6AA616"  stroke="#6AA616" stroke-width="0.2">0.5</text>
<text x="311.4" y="106.4" font-size="12" text-anchor="start" fill="#6AA616"  stroke="#6AA616" stroke-width="0.2">1.0</text>
<text x="311.4" y="59" font-size="12" text-anchor="start" fill="#6AA616"  stroke="#6AA616" stroke-width="0.2">1.5</text>
<text x="311.4" y="11.6" font-size="12" text-anchor="start" fill="#6AA616"  stroke="#6AA616" stroke-width="0.2">2.0</text>
<line x1="85.01" y1="197.3" x2="85.01" y2="200.9" stroke="#000" stroke-width="1.25" />
<line x1="116.44" y1="197.3" x2="116.44" y2="200.9" stroke="#000" stroke-width="1.25" />
<line x1="147.87" y1="197.3" x2="147.87" y2="200.9" stroke="#000" stroke-width="1.25" />
<line x1="179.29" y1="197.3" x2="179.29" y2="200.9" stroke="#000" stroke-width="1.25" />
<line x1="210.72" y1="197.3" x2="210.72" y2="200.9" stroke="#000" stroke-width="1.25" />
<line x1="242.15" y1="197.3" x2="242.15" y2="200.9" stroke="#000" stroke-width="1.25" />
<line x1="273.57" y1="197.3" x2="273.57" y2="200.9" stroke="#000" stroke-width="1.25" />
<line x1="305" y1="197.3" x2="305" y2="200.9" stroke="#000" stroke-width="1.25" />
<line x1="69.3" y1="197.3" x2="69.3" y2="199.3" stroke="#000" stroke-width="1.25" />
<line x1="100.73" y1="197.3" x2="100.73" y2="199.3" stroke="#000" stroke-width="1.25" />
<line x1="132.15" y1="197.3" x2="132.15" y2="199.3" stroke="#000" stroke-width="1.25" />
<line x1="163.58" y1="197.3" x2="163.58" y2="199.3" stroke="#000" stroke-width="1.25" />
<line x1="195.01" y1="197.3" x2="195.01" y2="199.3" stroke="#000" stroke-width="1.25" />
<line x1="226.43" y1="197.3" x2="226.43" y2="199.3" stroke="#000" stroke-width="1.25" />
<line x1="257.86" y1="197.3" x2="257.86" y2="199.3" stroke="#000" stroke-width="1.25" />
<line x1="289.29" y1="197.3" x2="289.29" y2="199.3" stroke="#000" stroke-width="1.25" />
<text x="85.01" y="213.2" font-size="12" text-anchor="middle" fill="#000"  stroke="#000" stroke-width="0.2">-40</text>
<text x="116.44" y="213.2" font-size="12" text-anchor="middle" fill="#000"  stroke="#000" stroke-width="0.2">-20</text>
<text x="147.87" y="213.2" font-size="12" text-anchor="middle" fill="#000"  stroke="#000" stroke-width="0.2">0</text>
<text x="179.29" y="213.2" font-size="12" text-anchor="middle" fill="#000"  stroke="#000" stroke-width="0.2">20</text>
<text x="210.72" y="213.2" font-size="12" text-anchor="middle" fill="#000"  stroke="#000" stroke-width="0.2">40</text>
<text x="242.15" y="213.2" font-size="12" text-anchor="middle" fill="#000"  stroke="#000" stroke-width="0.2">60</text>
<text x="273.57" y="213.2" font-size="12" text-anchor="middle" fill="#000"  stroke="#000" stroke-width="0.2">80</text>
<text x="305" y="213.2" font-size="12" text-anchor="middle" fill="#000"  stroke="#000" stroke-width="0.2">100</text>
<text x="134" y="230.7" font-size="12.5" text-anchor="start" fill="#000"  stroke="#000" stroke-width="0.2">Temperature (°C)</text>
<text transform="translate(26.1 102.5) rotate(-90)" font-size="12.5" text-anchor="middle" fill="#CC625A">Storage Modulus (MPa)</text>
<text transform="translate(41.5 105.2) rotate(-90)" font-size="12.5" text-anchor="middle" fill="#437DC4">Loss Modulus (MPa)</text>
<text transform="translate(341.2 100.7) rotate(-90)" font-size="12.2" text-anchor="middle" fill="#6AA616" stroke="#6AA616" stroke-width="0.2">tan δ</text>
<text x="0.1" y="18.4" font-size="20.3" text-anchor="start" fill="#000"  stroke="#000" stroke-width="0.2">a</text>
<text x="251.1" y="31.6" font-size="13.2" stroke="#000" stroke-width="0.2">In N<tspan font-size="9.8" dx="0.4" dy="3.4">2</tspan></text>
<path d="M409.7 13.2 L410.12 13.37 L410.53 13.54 L410.95 13.71 L411.36 13.88 L411.78 14.06 L412.2 14.23 L412.61 14.41 L413.02 14.59 L413.43 14.77 L413.84 14.95 L414.26 15.13 L414.67 15.31 L415.08 15.49 L415.49 15.68 L415.9 15.87 L416.3 16.08 L416.69 16.3 L417.07 16.54 L417.44 16.8 L417.8 17.07 L418.15 17.35 L418.49 17.64 L418.83 17.94 L419.16 18.24 L419.49 18.55 L419.82 18.85 L420.16 19.16 L420.49 19.46 L420.83 19.76 L421.17 20.05 L421.51 20.34 L421.86 20.63 L422.2 20.92 L422.55 21.21 L422.89 21.5 L423.23 21.79 L423.58 22.08 L423.91 22.38 L424.25 22.68 L424.58 22.98 L424.91 23.29 L425.24 23.59 L425.57 23.9 L425.9 24.21 L426.23 24.52 L426.55 24.83 L426.87 25.15 L427.19 25.47 L427.5 25.79 L427.8 26.12 L428.1 26.46 L428.4 26.8 L428.68 27.14 L428.96 27.5 L429.24 27.85 L429.51 28.21 L429.78 28.57 L430.04 28.94 L430.3 29.3 L430.56 29.67 L430.82 30.04 L431.08 30.41 L431.33 30.78 L431.59 31.15 L431.84 31.52 L432.1 31.89 L432.35 32.27 L432.6 32.64 L432.85 33.01 L433.1 33.39 L433.34 33.77 L433.59 34.14 L433.83 34.52 L434.08 34.9 L434.32 35.28 L434.57 35.66 L434.81 36.03 L435.06 36.41 L435.31 36.78 L435.56 37.15 L435.82 37.52 L436.08 37.89 L436.34 38.26 L436.6 38.62 L436.87 38.99 L437.13 39.35 L437.4 39.71 L437.67 40.07 L437.94 40.43 L438.21 40.79 L438.48 41.15 L438.75 41.51 L439.02 41.88 L439.28 42.24 L439.54 42.6 L439.81 42.97 L440.07 43.33 L440.33 43.7 L440.6 44.06 L440.86 44.43 L441.12 44.8 L441.38 45.17 L441.63 45.54 L441.88 45.92 L442.12 46.3 L442.35 46.68 L442.57 47.07 L442.79 47.46 L443 47.86 L443.21 48.26 L443.41 48.66 L443.62 49.06 L443.82 49.47 L444.02 49.87 L444.22 50.27 L444.42 50.67 L444.63 51.07 L444.84 51.47 L445.06 51.86 L445.27 52.26 L445.49 52.66 L445.7 53.05 L445.92 53.45 L446.14 53.84 L446.35 54.23 L446.57 54.63 L446.79 55.02 L447.01 55.41 L447.23 55.81 L447.45 56.2 L447.67 56.59 L447.89 56.98 L448.11 57.37 L448.34 57.76 L448.56 58.16 L448.78 58.55 L449 58.94 L449.21 59.34 L449.43 59.73 L449.64 60.13 L449.85 60.53 L450.06 60.92 L450.28 61.32 L450.49 61.72 L450.7 62.11 L450.91 62.51 L451.12 62.91 L451.33 63.31 L451.53 63.71 L451.74 64.11 L451.95 64.51 L452.16 64.91 L452.36 65.31 L452.56 65.71 L452.76 66.11 L452.96 66.52 L453.16 66.92 L453.36 67.32 L453.56 67.73 L453.76 68.13 L453.96 68.53 L454.16 68.93 L454.37 69.34 L454.57 69.74 L454.77 70.14 L454.98 70.54 L455.18 70.94 L455.38 71.34 L455.59 71.74 L455.79 72.14 L456 72.54 L456.21 72.94 L456.43 73.34 L456.65 73.73 L456.87 74.12 L457.1 74.51 L457.33 74.89 L457.57 75.28 L457.81 75.66 L458.05 76.03 L458.3 76.41 L458.55 76.78 L458.8 77.16 L459.05 77.53 L459.31 77.9 L459.56 78.27 L459.83 78.64 L460.09 79 L460.36 79.36 L460.62 79.73 L460.89 80.09 L461.15 80.45 L461.41 80.82 L461.67 81.19 L461.93 81.55 L462.19 81.92 L462.45 82.29 L462.71 82.66 L462.97 83.03 L463.23 83.39 L463.49 83.76 L463.75 84.13 L464.01 84.5 L464.27 84.86 L464.53 85.23 L464.79 85.6 L465.05 85.97 L465.31 86.33 L465.57 86.7 L465.84 87.06 L466.11 87.42 L466.39 87.77 L466.67 88.12 L466.96 88.47 L467.25 88.82 L467.54 89.16 L467.83 89.5 L468.12 89.85 L468.41 90.19 L468.7 90.54 L468.99 90.88 L469.28 91.22 L469.57 91.57 L469.86 91.91 L470.15 92.25 L470.45 92.59 L470.74 92.93 L471.04 93.27 L471.33 93.61 L471.63 93.95 L471.92 94.29 L472.22 94.63 L472.52 94.96 L472.82 95.3 L473.13 95.63 L473.43 95.96 L473.74 96.29 L474.05 96.61 L474.36 96.94 L474.67 97.26 L474.99 97.58 L475.3 97.9 L475.62 98.22 L475.94 98.54 L476.27 98.85 L476.59 99.16 L476.92 99.47 L477.25 99.78 L477.58 100.09 L477.91 100.39 L478.25 100.68 L478.59 100.98 L478.93 101.27 L479.28 101.56 L479.62 101.85 L479.95 102.16 L480.27 102.47 L480.59 102.79 L480.89 103.12 L481.2 103.45 L481.5 103.78 L481.81 104.11 L482.13 104.43 L482.45 104.74 L482.79 105.04 L483.14 105.32 L483.49 105.61 L483.84 105.89 L484.19 106.17 L484.54 106.46 L484.87 106.76 L485.2 107.06 L485.52 107.38 L485.84 107.69 L486.17 108.01 L486.49 108.32 L486.82 108.62 L487.16 108.92 L487.5 109.21 L487.85 109.5 L488.2 109.79 L488.55 110.07 L488.9 110.35 L489.26 110.62 L489.62 110.89 L489.99 111.15 L490.36 111.4 L490.73 111.66 L491.11 111.91 L491.48 112.15 L491.86 112.4 L492.24 112.64 L492.62 112.88 L493 113.12 L493.39 113.35 L493.77 113.58 L494.16 113.81 L494.54 114.05 L494.93 114.27 L495.33 114.49 L495.72 114.7 L496.12 114.91 L496.52 115.12 L496.92 115.32 L497.32 115.52 L497.73 115.72 L498.13 115.92 L498.53 116.12 L498.94 116.32 L499.34 116.52 L499.75 116.71 L500.16 116.9 L500.56 117.09 L500.97 117.28 L501.39 117.46 L501.8 117.64 L502.21 117.81 L502.63 117.99 L503.04 118.16 L503.46 118.33 L503.88 118.5 L504.3 118.66 L504.72 118.83 L505.13 118.99 L505.55 119.16 L505.97 119.33 L506.39 119.49 L506.81 119.66 L507.22 119.83 L507.64 119.99 L508.06 120.15 L508.48 120.31 L508.9 120.47 L509.33 120.63 L509.75 120.78 L510.18 120.93 L510.6 121.07 L511.03 121.21 L511.46 121.35 L511.89 121.48 L512.32 121.61 L512.75 121.74 L513.18 121.87 L513.61 121.99 L514.05 122.12 L514.48 122.24 L514.91 122.36 L515.35 122.48 L515.78 122.6 L516.22 122.71 L516.65 122.83 L517.09 122.94 L517.52 123.05 L517.96 123.16 L518.4 123.27 L518.83 123.37 L519.27 123.47 L519.71 123.57 L520.15 123.55 L520.59 123.66 L521.03 124.06 L521.47 123.99 L521.92 123.8 L522.36 123.91 L522.8 124.06 L523.25 124.02 L523.69 124.44 L524.13 124.99 L524.58 124.45 L525.02 124.02 L525.47 124.38 L525.91 124.64 L526.36 124.68 L526.8 124.71 L527.25 125.17 L527.69 125.22 L528.14 125.4 L528.59 125.36 L529.03 125.4 L529.48 125.33 L529.92 125.24 L530.37 125.66 L530.81 125.46 L531.25 125.54 L531.69 125.06 L532.13 125.58 L532.58 125.56 L533.03 125.93 L533.47 125.96 L533.92 126.21 L534.37 126.08 L534.82 126.2 L535.27 126.19 L535.72 125.94 L536.17 125.91 L536.62 125.9 L537.07 126.07 L537.51 125.91 L537.96 125.85 L538.41 125.77 L538.86 126.03 L539.31 126.28 L539.76 126.04 L540.21 126.22 L540.66 126.01 L541.11 125.67 L541.56 125.99 L542.01 126.1 L542.46 126.46 L542.91 126.22 L543.36 126.26 L543.81 126.02 L544.26 126.46 L544.71 126.5 L545.16 126.29 L545.61 126.53 L546.06 126.39 L546.51 126.13 L546.96 127.21 L547.4 126.51 L547.85 126.5 L548.3 126.42 L548.75 126.69 L549.2 126.28 L549.65 126.26 L550.1 126.71 L550.55 126.35 L551 126.47 L551.45 126.44 L551.9 126.44 L552.35 126.74 L552.8 126.41 L553.25 126.85 L553.7 126.42 L554.15 126.48 L554.6 126.57 L555.05 126.64 L555.5 126.71 L555.95 126.77 L556.4 127.06 L556.85 126.86 L557.3 126.64 L557.75 126.85 L558.2 127.09 L558.65 126.94 L559.1 126.86 L559.55 126.99 L560 126.76 L560.45 126.63 L560.9 126.61 L561.35 126.96 L561.8 127.44 L562.25 126.79 L562.7 127 L563.15 126.55 L563.6 126.56 L564.05 126.76 L564.5 126.97 L564.95 126.73 L565.4 127.04 L565.85 126.58 L566.3 126.76 L566.75 126.68 L567.2 126.91 L567.65 126.91 L568.1 126.75 L568.55 126.91 L569 126.88 L569.45 127.08 L569.9 126.81 L570.35 127.2 L570.8 126.79 L571.25 127.06 L571.7 127.1 L572.15 127.2 L572.6 126.88 L573.05 126.83 L573.5 126.71 L573.95 126.62 L574.4 127.12 L574.85 126.93 L575.3 127.08 L575.75 126.86 L576.2 127.05 L576.65 127.24 L577.1 127.28 L577.55 127 L578 127.13 L578.45 127.41 L578.9 127 L579.35 127.17 L579.8 127.2 L580.25 127.47 L580.7 127.49 L581.15 127.17 L581.6 127.25 L582.05 127.13 L582.5 127 L582.95 127.24 L583.4 127.01 L583.85 126.97 L584.3 127.05 L584.75 126.68 L585.2 127.18 L585.65 126.76 L586.1 127 L586.55 127.01 L587 127.14 L587.45 126.89 L587.9 126.61 L588.35 127.18 L588.8 127.26 L589.25 127 L589.7 127.11 L590.15 127.21 L590.6 126.8 L591.05 126.96 L591.5 126.88 L591.95 127.29 L592.4 126.92 L592.85 127.2 L593.3 127.18 L593.75 126.88 L594.2 127.13 L594.65 127.69 L595.1 127.26 L595.55 127.38 L596 127.37 L596.45 127.09 L596.9 127.36 L597.35 126.86 L597.8 127.17 L598.25 127.23 L598.7 126.92 L599.15 127.32 L599.6 127.42 L600.05 127.35 L600.5 127.45 L600.95 127.08 L601.4 127.16 L601.85 127.51 L602.3 127.13 L602.75 126.77 L603.2 127.35 L603.65 127.16 L604.1 127.33 L604.55 126.82 L605 127 L605.45 126.91 L605.9 126.75 L606.35 126.75 L606.8 126.65 L607.25 126.73 L607.7 126.8 L608.15 126.78 L608.6 126.73 L609.05 126.68 L609.5 127.04 L609.95 127 L610.4 126.8 L610.85 126.81 L611.3 126.29 L611.75 126.74 L612.2 126.67 L612.65 126.77 L613.1 126.86 L613.55 126.63 L614 126.96 L614.45 126.69 L614.9 127.09 L615.35 126.82 L615.8 126.75 L616.25 126.82 L616.7 126.79 L617.15 126.93 L617.6 126.79 L618.05 126.85 L618.5 126.87 L618.95 126.75 L619.4 127.05 L619.85 126.76 L620.3 126.72 L620.75 127.04 L621.19 127.02 L621.64 126.98 L622.09 127.15 L622.54 127.03 L622.99 127.22 L623.44 127.18 L623.89 126.93 L624.34 127.17 L624.78 127.24 L625.23 126.98 L625.68 127.03 L626.12 127.15 L626.57 127.14 L627.02 127.17 L627.46 127.59 L627.9 127.27 L628.35 127.33 L628.79 127.73 L629.24 127.76 L629.68 127.51 L630.12 127.86 L630.56 127.93 L631.01 128 L631.45 127.82 L631.88 128.09 L632.32 128.22 L632.76 128.17 L633.19 128.74 L633.62 128.7 L634.05 128.57 L634.48 129.07 L634.91 129.09 L635.34 129.14 L635.76 129.47 L636.17 129.72 L636.59 129.64 L636.99 129.85 L637.39 130.28 L637.79 130.16 L638.18 130.55 L638.57 130.74 L638.95 131.01 L639.31 131.38 L639.66 131.63 L640 131.73 L640.33 132.09 L640.65 132.35 L640.97 132.13 L641.28 133.02 L641.58 133.3 L641.88 134.11 L642.17 134.17 L642.47 134.86 L642.7 135.07" fill="none" stroke="#CC625A" stroke-width="2.5" stroke-linejoin="round" stroke-linecap="butt"/>
<path d="M409.7 31.1 L410.15 31.13 L410.6 31.16 L411.05 31.19 L411.5 31.22 L411.95 31.25 L412.39 31.28 L412.84 31.31 L413.29 31.35 L413.74 31.39 L414.19 31.44 L414.63 31.5 L415.08 31.56 L415.52 31.64 L415.96 31.73 L416.4 31.84 L416.83 31.95 L417.27 32.08 L417.7 32.21 L418.13 32.35 L418.55 32.49 L418.98 32.63 L419.41 32.77 L419.84 32.91 L420.27 33.04 L420.69 33.18 L421.12 33.31 L421.55 33.45 L421.98 33.59 L422.41 33.73 L422.83 33.88 L423.26 34.02 L423.68 34.17 L424.11 34.32 L424.53 34.47 L424.95 34.63 L425.38 34.78 L425.8 34.94 L426.22 35.1 L426.64 35.25 L427.06 35.42 L427.48 35.58 L427.89 35.76 L428.31 35.93 L428.72 36.12 L429.12 36.31 L429.53 36.51 L429.93 36.72 L430.32 36.93 L430.72 37.15 L431.11 37.37 L431.5 37.6 L431.89 37.83 L432.27 38.06 L432.65 38.3 L433.03 38.54 L433.4 38.79 L433.78 39.05 L434.15 39.3 L434.51 39.56 L434.88 39.83 L435.24 40.1 L435.6 40.37 L435.95 40.64 L436.31 40.92 L436.66 41.2 L437.01 41.49 L437.35 41.78 L437.69 42.07 L438.03 42.37 L438.36 42.67 L438.69 42.98 L439.01 43.3 L439.32 43.62 L439.64 43.94 L439.94 44.27 L440.24 44.61 L440.54 44.94 L440.84 45.28 L441.13 45.63 L441.41 45.97 L441.7 46.32 L441.97 46.68 L442.25 47.03 L442.52 47.39 L442.78 47.76 L443.03 48.14 L443.27 48.52 L443.5 48.9 L443.73 49.29 L443.95 49.68 L444.18 50.07 L444.42 50.45 L444.66 50.83 L444.9 51.21 L445.15 51.59 L445.4 51.96 L445.64 52.34 L445.89 52.71 L446.14 53.09 L446.4 53.46 L446.65 53.83 L446.91 54.2 L447.17 54.56 L447.44 54.92 L447.71 55.28 L447.99 55.64 L448.27 55.99 L448.56 56.34 L448.85 56.68 L449.14 57.02 L449.43 57.36 L449.73 57.7 L450.04 58.03 L450.35 58.36 L450.65 58.69 L450.96 59.02 L451.26 59.35 L451.56 59.69 L451.85 60.03 L452.13 60.38 L452.4 60.74 L452.67 61.1 L452.94 61.46 L453.2 61.83 L453.46 62.2 L453.72 62.56 L453.98 62.93 L454.24 63.3 L454.51 63.66 L454.77 64.03 L455.04 64.39 L455.31 64.74 L455.59 65.1 L455.86 65.46 L456.14 65.81 L456.42 66.16 L456.69 66.52 L456.97 66.88 L457.24 67.24 L457.5 67.6 L457.76 67.97 L458.01 68.35 L458.25 68.72 L458.49 69.1 L458.73 69.48 L458.98 69.86 L459.22 70.24 L459.47 70.62 L459.73 70.98 L460 71.35 L460.26 71.71 L460.54 72.07 L460.81 72.42 L461.09 72.78 L461.36 73.14 L461.63 73.5 L461.9 73.86 L462.16 74.22 L462.42 74.59 L462.68 74.96 L462.93 75.33 L463.18 75.7 L463.44 76.08 L463.69 76.45 L463.94 76.82 L464.2 77.19 L464.45 77.56 L464.7 77.94 L464.95 78.31 L465.2 78.69 L465.45 79.06 L465.7 79.43 L465.96 79.8 L466.21 80.18 L466.46 80.55 L466.72 80.92 L466.98 81.29 L467.24 81.65 L467.5 82.02 L467.76 82.39 L468.02 82.76 L468.28 83.12 L468.54 83.49 L468.8 83.86 L469.06 84.22 L469.32 84.59 L469.58 84.96 L469.84 85.32 L470.1 85.69 L470.36 86.06 L470.63 86.42 L470.89 86.78 L471.16 87.15 L471.43 87.51 L471.7 87.86 L471.98 88.22 L472.26 88.57 L472.53 88.93 L472.81 89.28 L473.09 89.64 L473.37 89.99 L473.64 90.35 L473.91 90.71 L474.18 91.07 L474.45 91.43 L474.72 91.79 L474.98 92.15 L475.25 92.52 L475.52 92.88 L475.78 93.24 L476.05 93.6 L476.31 93.97 L476.57 94.34 L476.83 94.7 L477.09 95.07 L477.36 95.44 L477.62 95.8 L477.88 96.17 L478.15 96.53 L478.42 96.89 L478.69 97.25 L478.96 97.61 L479.23 97.97 L479.51 98.32 L479.78 98.68 L480.06 99.03 L480.33 99.39 L480.61 99.74 L480.89 100.1 L481.17 100.45 L481.45 100.8 L481.73 101.15 L482.01 101.5 L482.3 101.85 L482.58 102.2 L482.86 102.55 L483.15 102.9 L483.43 103.25 L483.72 103.6 L484 103.94 L484.29 104.29 L484.58 104.64 L484.86 104.99 L485.15 105.33 L485.43 105.69 L485.7 106.04 L485.98 106.4 L486.25 106.76 L486.53 107.11 L486.81 107.46 L487.09 107.81 L487.38 108.16 L487.68 108.5 L487.98 108.83 L488.29 109.16 L488.6 109.48 L488.92 109.8 L489.23 110.12 L489.54 110.45 L489.85 110.77 L490.16 111.11 L490.45 111.44 L490.74 111.79 L491.02 112.15 L491.29 112.5 L491.55 112.87 L491.82 113.23 L492.08 113.6 L492.35 113.96 L492.62 114.32 L492.9 114.67 L493.19 115.02 L493.49 115.35 L493.79 115.68 L494.11 116 L494.43 116.32 L494.75 116.64 L495.06 116.96 L495.37 117.28 L495.69 117.61 L496 117.93 L496.31 118.26 L496.62 118.58 L496.93 118.91 L497.24 119.23 L497.55 119.56 L497.86 119.88 L498.18 120.21 L498.49 120.53 L498.8 120.86 L499.11 121.18 L499.42 121.51 L499.73 121.83 L500.05 122.15 L500.37 122.47 L500.68 122.79 L501 123.11 L501.32 123.43 L501.64 123.74 L501.96 124.06 L502.28 124.38 L502.6 124.69 L502.92 125.01 L503.25 125.32 L503.57 125.63 L503.89 125.95 L504.2 126.27 L504.5 126.6 L504.8 126.94 L505.09 127.29 L505.37 127.64 L505.64 128 L505.92 128.35 L506.2 128.7 L506.49 129.05 L506.79 129.39 L507.1 129.71 L507.41 130.04 L507.73 130.35 L508.06 130.66 L508.39 130.96 L508.73 131.27 L509.06 131.57 L509.4 131.86 L509.74 132.16 L510.08 132.45 L510.43 132.73 L510.78 133.02 L511.13 133.3 L511.48 133.58 L511.83 133.86 L512.18 134.14 L512.54 134.42 L512.89 134.7 L513.25 134.97 L513.6 135.25 L513.96 135.52 L514.31 135.8 L514.67 136.08 L515.02 136.64 L515.38 135.74 L515.74 136.7 L516.1 137.31 L516.46 137.66 L516.82 137.37 L517.19 137.74 L517.56 138.02 L517.92 138.54 L518.29 137.95 L518.66 138.63 L519.02 139.2 L519.39 139.17 L519.76 139.52 L520.13 140.33 L520.5 140.34 L520.87 140.42 L521.25 140.95 L521.62 140.24 L522 140.25 L522.38 141.19 L522.76 141.26 L523.14 142.24 L523.52 141.63 L523.91 141.72 L524.3 142.29 L524.69 142.7 L525.08 142.04 L525.47 142.84 L525.86 143.92 L526.24 143.67 L526.62 143.45 L527.01 143.96 L527.39 144.63 L527.78 145 L528.16 144.84 L528.55 146.24 L528.93 146.3 L529.32 146.07 L529.71 147.01 L530.1 147.05 L530.5 146.72 L530.9 147.57 L531.3 146.94 L531.7 147.37 L532.1 147.78 L532.5 149.84 L532.89 148.02 L533.28 147.57 L533.67 148.22 L534.06 147.88 L534.46 148.6 L534.85 148.64 L535.24 149.84 L535.64 149.17 L536.04 149.22 L536.45 150.12 L536.85 150.34 L537.27 149.69 L537.69 149.2 L538.11 149.91 L538.54 150.35 L538.97 150.01 L539.4 149.79 L539.84 150.58 L540.27 151.06 L540.71 149.96 L541.14 150.93 L541.58 149.31 L542.01 150.65 L542.44 151.15 L542.87 151.27 L543.3 151.14 L543.73 151.95 L544.16 151.99 L544.59 152.52 L545.02 152.34 L545.44 151.99 L545.87 152.12 L546.3 152.65 L546.73 152.74 L547.15 152.34 L547.57 153.02 L547.99 153.74 L548.4 153.6 L548.81 153.84 L549.21 154.35 L549.63 153.22 L550.05 153.61 L550.47 156.51 L550.9 153.2 L551.34 155.01 L551.77 154.11 L552.2 154.38 L552.64 155.66 L553.07 155 L553.5 155.01 L553.93 156.07 L554.36 156.17 L554.79 155.96 L555.21 155.56 L555.64 155.38 L556.07 157.49 L556.5 155.74 L556.93 157.09 L557.37 156.29 L557.8 156.24 L558.24 156.55 L558.68 157.3 L559.11 157.88 L559.55 157.09 L559.99 156.92 L560.43 158.4 L560.86 157.33 L561.3 157.1 L561.74 157.48 L562.18 157.59 L562.62 157.21 L563.06 158.28 L563.5 157.82 L563.94 157.82 L564.38 158 L564.82 158.62 L565.26 157.4 L565.7 158.89 L566.14 158.53 L566.58 157.93 L567.03 159.13 L567.47 158.69 L567.91 157.95 L568.35 159.17 L568.79 159.12 L569.23 159 L569.68 159.3 L570.12 159.29 L570.56 158.15 L571 158.38 L571.45 159.99 L571.89 158.66 L572.33 160.16 L572.78 158.84 L573.22 159.54 L573.67 161.07 L574.11 160.23 L574.56 159.28 L575 160.21 L575.45 159.97 L575.9 160.22 L576.34 159.12 L576.79 161.34 L577.24 160.2 L577.69 160.49 L578.14 159.47 L578.59 160.88 L579.04 160.87 L579.49 160.66 L579.94 161.3 L580.39 161.51 L580.83 161.09 L581.28 160.48 L581.73 161.76 L582.18 161.59 L582.63 160.99 L583.08 161.01 L583.53 159.53 L583.97 160.21 L584.42 160.44 L584.87 162.16 L585.32 160.14 L585.76 161.15 L586.21 160.1 L586.66 159.33 L587.1 161.17 L587.55 159.97 L588 161.16 L588.44 160.11 L588.89 161.47 L589.34 161.7 L589.78 158.02 L590.23 160.7 L590.68 161.91 L591.13 161.23 L591.57 161.48 L592.02 161.95 L592.47 160.98 L592.92 160.94 L593.36 162.27 L593.81 161.28 L594.26 162.24 L594.71 161.43 L595.16 161.57 L595.6 162.1 L596.05 160.53 L596.5 161.71 L596.95 161.93 L597.4 162.67 L597.85 161.09 L598.3 162.29 L598.75 162.1 L599.2 160.88 L599.64 162.32 L600.09 162.77 L600.54 161.07 L600.99 161.87 L601.44 162.06 L601.89 160.72 L602.34 160.5 L602.79 160.39 L603.24 163.04 L603.68 162.91 L604.13 160.89 L604.58 163.37 L605.03 160.82 L605.47 162.68 L605.92 162.15 L606.37 163.35 L606.81 162.04 L607.26 161.71 L607.71 162.98 L608.15 163.36 L608.6 164.91 L609.04 163.05 L609.49 162.37 L609.94 162.4 L610.38 164.04 L610.83 163.72 L611.28 164.33 L611.72 165.82 L612.17 164.43 L612.62 165.54 L613.07 163.03 L613.52 166.03 L613.97 165.56 L614.42 164.68 L614.87 162.54 L615.32 162.29 L615.77 161.7 L616.22 161.83 L616.67 161.26 L617.11 161.02 L617.56 161.73 L618.01 163.89 L618.46 164.46 L618.91 163.82 L619.36 165.28 L619.81 164.6 L620.26 162.66 L620.71 162.34 L621.16 164.81 L621.61 163.93 L622.05 166.72 L622.5 165.09 L622.95 165.56 L623.4 164.03 L623.84 167.21 L624.29 167.39 L624.74 164.47 L625.18 166.47 L625.63 164.65 L626.08 161.2 L626.52 164.2 L626.97 163.28 L627.41 163.48 L627.86 162.8 L628.31 163.02 L628.75 166.91 L629.2 164.98 L629.64 166.2 L630.09 163.18 L630.54 164.26 L630.98 164.43 L631.43 166.28 L631.88 167.43 L632.32 164.08 L632.77 165.68 L633.22 164.38 L633.66 164.68 L634.11 166.93 L634.55 164.9 L634.99 164.81 L635.44 164.32 L635.88 164.03 L636.31 165.93 L636.74 165.77 L637.16 166.1 L637.56 166.34 L637.91 166.62 L638.2 166.89 L638.47 167.62 L638.75 166 L639 167.52 L639.26 168.47 L639.52 168.4 L639.8 168.49 L640.11 169.86 L640.45 170.27 L640.8 170.07 L641.17 170.66 L641.53 170.14 L641.89 171.01 L642.26 171.04 L642.63 171.54 L643 171.75 L643.2 172.2" fill="none" stroke="#437DC4" stroke-width="2.5" stroke-linejoin="round" stroke-linecap="butt"/>
<path d="M409.3 171.2 L409.62 170.89 L409.95 170.57 L410.27 170.26 L410.59 169.95 L410.91 169.63 L411.23 169.32 L411.55 169 L411.87 168.68 L412.18 168.35 L412.49 168.02 L412.79 167.69 L413.09 167.35 L413.38 167.01 L413.67 166.67 L413.96 166.32 L414.24 165.97 L414.53 165.62 L414.81 165.27 L415.09 164.92 L415.37 164.57 L415.65 164.22 L415.93 163.86 L416.21 163.51 L416.49 163.16 L416.76 162.8 L417.04 162.45 L417.32 162.09 L417.59 161.74 L417.87 161.38 L418.14 161.02 L418.41 160.66 L418.68 160.3 L418.95 159.94 L419.21 159.58 L419.48 159.22 L419.75 158.85 L420.01 158.49 L420.27 158.12 L420.54 157.76 L420.8 157.39 L421.06 157.03 L421.32 156.66 L421.58 156.29 L421.83 155.92 L422.09 155.55 L422.34 155.18 L422.6 154.81 L422.85 154.43 L423.11 154.06 L423.36 153.7 L423.62 153.33 L423.88 152.96 L424.14 152.59 L424.39 152.22 L424.64 151.84 L424.88 151.46 L425.12 151.08 L425.35 150.69 L425.57 150.3 L425.79 149.91 L426 149.51 L426.2 149.11 L426.41 148.71 L426.6 148.3 L426.8 147.9 L426.99 147.49 L427.18 147.08 L427.36 146.67 L427.55 146.26 L427.73 145.85 L427.9 145.44 L428.08 145.02 L428.26 144.61 L428.43 144.19 L428.6 143.78 L428.77 143.36 L428.94 142.94 L429.11 142.53 L429.28 142.11 L429.44 141.69 L429.61 141.27 L429.77 140.85 L429.93 140.43 L430.09 140.01 L430.25 139.59 L430.4 139.17 L430.56 138.74 L430.71 138.32 L430.87 137.9 L431.02 137.47 L431.17 137.05 L431.32 136.63 L431.47 136.2 L431.62 135.78 L431.77 135.35 L431.91 134.93 L432.06 134.5 L432.2 134.08 L432.35 133.65 L432.49 133.22 L432.63 132.8 L432.78 132.37 L432.92 131.94 L433.06 131.51 L433.19 131.08 L433.33 130.66 L433.47 130.23 L433.61 129.8 L433.74 129.37 L433.88 128.94 L434.01 128.51 L434.14 128.08 L434.28 127.65 L434.41 127.22 L434.54 126.79 L434.67 126.36 L434.8 125.93 L434.93 125.5 L435.06 125.07 L435.19 124.64 L435.32 124.21 L435.45 123.78 L435.58 123.34 L435.71 122.91 L435.83 122.48 L435.96 122.05 L436.09 121.62 L436.21 121.19 L436.34 120.75 L436.46 120.32 L436.59 119.89 L436.71 119.46 L436.83 119.02 L436.96 118.59 L437.08 118.16 L437.2 117.72 L437.32 117.29 L437.45 116.86 L437.57 116.42 L437.69 115.99 L437.81 115.56 L437.93 115.12 L438.05 114.69 L438.17 114.26 L438.29 113.82 L438.41 113.39 L438.53 112.96 L438.65 112.52 L438.77 112.09 L438.89 111.65 L439.01 111.22 L439.13 110.79 L439.25 110.35 L439.37 109.92 L439.49 109.48 L439.61 109.05 L439.72 108.62 L439.84 108.18 L439.95 107.75 L440.07 107.31 L440.18 106.88 L440.29 106.44 L440.41 106 L440.52 105.57 L440.64 105.13 L440.75 104.7 L440.87 104.27 L440.99 103.83 L441.11 103.4 L441.23 102.96 L441.35 102.53 L441.47 102.1 L441.59 101.66 L441.71 101.23 L441.82 100.79 L441.93 100.36 L442.05 99.92 L442.15 99.48 L442.26 99.05 L442.37 98.61 L442.47 98.17 L442.58 97.74 L442.68 97.3 L442.79 96.86 L442.89 96.42 L442.99 95.98 L443.1 95.55 L443.2 95.11 L443.3 94.67 L443.4 94.23 L443.5 93.79 L443.61 93.35 L443.71 92.92 L443.81 92.48 L443.91 92.04 L444.02 91.6 L444.12 91.16 L444.22 90.73 L444.32 90.29 L444.43 89.85 L444.53 89.41 L444.63 88.97 L444.74 88.54 L444.84 88.1 L444.95 87.66 L445.05 87.22 L445.16 86.79 L445.27 86.35 L445.37 85.91 L445.48 85.47 L445.58 85.04 L445.69 84.6 L445.8 84.16 L445.9 83.72 L446.01 83.29 L446.11 82.85 L446.22 82.41 L446.33 81.98 L446.43 81.54 L446.54 81.1 L446.65 80.66 L446.75 80.23 L446.86 79.79 L446.96 79.35 L447.07 78.91 L447.17 78.48 L447.28 78.04 L447.38 77.6 L447.49 77.16 L447.59 76.72 L447.69 76.29 L447.79 75.85 L447.89 75.41 L447.99 74.97 L448.09 74.53 L448.19 74.09 L448.29 73.65 L448.38 73.21 L448.48 72.77 L448.58 72.33 L448.68 71.9 L448.78 71.46 L448.87 71.02 L448.97 70.58 L449.08 70.14 L449.18 69.7 L449.28 69.26 L449.39 68.83 L449.5 68.39 L449.61 67.95 L449.72 67.52 L449.83 67.08 L449.94 66.65 L450.05 66.21 L450.16 65.77 L450.28 65.34 L450.39 64.9 L450.51 64.47 L450.62 64.03 L450.73 63.6 L450.85 63.16 L450.96 62.73 L451.07 62.29 L451.19 61.86 L451.3 61.42 L451.41 60.98 L451.52 60.55 L451.63 60.11 L451.74 59.67 L451.85 59.24 L451.96 58.8 L452.07 58.37 L452.18 57.93 L452.29 57.49 L452.4 57.06 L452.52 56.62 L452.63 56.19 L452.74 55.75 L452.86 55.32 L452.98 54.88 L453.1 54.45 L453.22 54.01 L453.34 53.58 L453.46 53.15 L453.59 52.72 L453.71 52.28 L453.84 51.85 L453.96 51.42 L454.09 50.99 L454.22 50.56 L454.35 50.13 L454.48 49.69 L454.61 49.26 L454.74 48.83 L454.87 48.4 L455 47.97 L455.13 47.54 L455.26 47.11 L455.39 46.68 L455.52 46.25 L455.65 45.82 L455.79 45.39 L455.92 44.96 L456.05 44.53 L456.19 44.1 L456.33 43.67 L456.47 43.25 L456.62 42.82 L456.77 42.4 L456.92 41.97 L457.07 41.55 L457.23 41.13 L457.4 40.71 L457.56 40.29 L457.74 39.88 L457.91 39.46 L458.1 39.05 L458.29 38.64 L458.48 38.24 L458.68 37.84 L458.9 37.44 L459.11 37.05 L459.34 36.66 L459.58 36.28 L459.83 35.9 L460.09 35.53 L460.36 35.17 L460.65 34.83 L460.97 34.51 L461.32 34.23 L461.69 33.98 L462.08 33.76 L462.49 33.56 L462.91 33.41 L463.35 33.32 L463.8 33.3 L464.25 33.36 L464.68 33.48 L465.1 33.65 L465.5 33.85 L465.9 34.05 L466.29 34.28 L466.63 34.57 L466.93 34.91 L467.19 35.27 L467.43 35.65 L467.66 36.04 L467.87 36.44 L468.08 36.84 L468.28 37.24 L468.48 37.64 L468.68 38.05 L468.88 38.45 L469.07 38.86 L469.27 39.26 L469.46 39.67 L469.66 40.07 L469.85 40.48 L470.03 40.89 L470.22 41.3 L470.4 41.71 L470.58 42.12 L470.76 42.54 L470.94 42.95 L471.11 43.37 L471.27 43.79 L471.44 44.21 L471.6 44.63 L471.76 45.05 L471.91 45.47 L472.07 45.89 L472.22 46.31 L472.37 46.74 L472.52 47.16 L472.67 47.59 L472.82 48.01 L472.97 48.44 L473.12 48.86 L473.27 49.28 L473.42 49.71 L473.58 50.13 L473.73 50.56 L473.88 50.98 L474.03 51.4 L474.19 51.82 L474.34 52.25 L474.5 52.67 L474.65 53.09 L474.8 53.52 L474.95 53.94 L475.1 54.36 L475.25 54.79 L475.4 55.21 L475.55 55.64 L475.69 56.07 L475.83 56.49 L475.97 56.92 L476.11 57.35 L476.25 57.78 L476.38 58.21 L476.52 58.64 L476.65 59.07 L476.79 59.49 L476.92 59.93 L477.05 60.36 L477.18 60.79 L477.31 61.22 L477.44 61.65 L477.56 62.08 L477.69 62.51 L477.82 62.94 L477.94 63.38 L478.06 63.81 L478.18 64.24 L478.3 64.68 L478.42 65.11 L478.54 65.55 L478.65 65.98 L478.76 66.42 L478.88 66.85 L478.99 67.29 L479.1 67.73 L479.2 68.16 L479.31 68.6 L479.42 69.04 L479.53 69.47 L479.63 69.91 L479.74 70.35 L479.85 70.78 L479.96 71.22 L480.06 71.66 L480.17 72.09 L480.28 72.53 L480.39 72.97 L480.5 73.41 L480.61 73.84 L480.71 74.28 L480.82 74.72 L480.93 75.15 L481.03 75.59 L481.14 76.03 L481.25 76.47 L481.35 76.9 L481.46 77.34 L481.57 77.78 L481.67 78.21 L481.78 78.65 L481.88 79.09 L481.98 79.53 L482.08 79.97 L482.19 80.4 L482.29 80.84 L482.4 81.28 L482.51 81.72 L482.62 82.15 L482.74 82.59 L482.85 83.02 L482.97 83.46 L483.09 83.89 L483.21 84.32 L483.33 84.76 L483.45 85.19 L483.58 85.62 L483.7 86.06 L483.82 86.49 L483.95 86.92 L484.07 87.35 L484.2 87.79 L484.32 88.22 L484.44 88.65 L484.57 89.08 L484.69 89.51 L484.82 89.95 L484.94 90.38 L485.07 90.81 L485.19 91.24 L485.32 91.68 L485.44 92.11 L485.57 92.54 L485.69 92.97 L485.82 93.41 L485.94 93.84 L486.06 94.27 L486.18 94.71 L486.31 95.14 L486.43 95.57 L486.55 96 L486.67 96.44 L486.8 96.87 L486.92 97.3 L487.04 97.74 L487.17 98.17 L487.29 98.6 L487.42 99.03 L487.54 99.47 L487.67 99.9 L487.8 100.33 L487.93 100.76 L488.06 101.19 L488.19 101.62 L488.32 102.05 L488.45 102.48 L488.58 102.91 L488.71 103.34 L488.84 103.77 L488.97 104.2 L489.11 104.63 L489.24 105.06 L489.37 105.49 L489.51 105.92 L489.64 106.35 L489.77 106.78 L489.91 107.21 L490.04 107.64 L490.18 108.07 L490.32 108.5 L490.45 108.93 L490.59 109.36 L490.73 109.79 L490.86 110.21 L491 110.64 L491.14 111.07 L491.28 111.5 L491.42 111.93 L491.56 112.35 L491.7 112.78 L491.84 113.21 L491.98 113.64 L492.12 114.06 L492.26 114.49 L492.41 114.92 L492.55 115.34 L492.7 115.77 L492.84 116.19 L492.99 116.62 L493.13 117.05 L493.28 117.47 L493.43 117.9 L493.58 118.32 L493.73 118.74 L493.88 119.17 L494.04 119.59 L494.19 120.01 L494.34 120.44 L494.5 120.86 L494.66 121.28 L494.81 121.7 L494.97 122.12 L495.13 122.54 L495.3 122.96 L495.46 123.38 L495.62 123.8 L495.79 124.22 L495.96 124.64 L496.12 125.06 L496.29 125.47 L496.46 125.89 L496.63 126.31 L496.8 126.72 L496.97 127.14 L497.15 127.55 L497.32 127.97 L497.5 128.38 L497.67 128.8 L497.85 129.21 L498.03 129.62 L498.21 130.04 L498.39 130.45 L498.57 130.86 L498.75 131.27 L498.92 131.69 L499.1 132.1 L499.28 132.52 L499.45 132.93 L499.63 133.34 L499.8 133.76 L499.98 134.17 L500.15 134.59 L500.32 135.01 L500.49 135.42 L500.67 135.84 L500.84 136.25 L501.01 136.67 L501.19 137.08 L501.36 137.5 L501.54 137.91 L501.71 138.33 L501.89 138.74 L502.06 139.15 L502.24 139.57 L502.42 139.98 L502.59 140.4 L502.77 140.81 L502.94 141.22 L503.12 141.64 L503.3 142.05 L503.48 142.47 L503.66 142.88 L503.84 143.29 L504.02 143.7 L504.2 144.11 L504.38 144.52 L504.57 144.93 L504.76 145.34 L504.94 145.75 L505.13 146.16 L505.32 146.57 L505.51 146.98 L505.7 147.39 L505.9 147.79 L506.09 148.2 L506.29 148.6 L506.49 149.01 L506.69 149.41 L506.89 149.81 L507.09 150.21 L507.3 150.61 L507.51 151.01 L507.72 151.41 L507.93 151.8 L508.14 152.2 L508.36 152.6 L508.57 152.99 L508.79 153.39 L509 153.78 L509.22 154.18 L509.44 154.57 L509.66 154.96 L509.89 155.35 L510.11 155.74 L510.34 156.13 L510.57 156.52 L510.8 156.9 L511.03 157.29 L511.27 157.67 L511.5 158.05 L511.74 158.44 L511.98 158.82 L512.22 159.2 L512.47 159.57 L512.71 159.95 L512.96 160.33 L513.22 160.7 L513.47 161.07 L513.73 161.44 L513.99 161.8 L514.26 162.16 L514.53 162.52 L514.81 162.88 L515.08 164.3 L515.37 163.4 L515.65 165.02 L515.94 164.73 L516.22 164.78 L516.52 164.53 L516.81 166.54 L517.11 165.44 L517.41 167.15 L517.71 166.56 L518.01 167.63 L518.32 167.49 L518.63 166.86 L518.94 168.32 L519.25 168.59 L519.57 165.66 L519.89 169.45 L520.22 170.58 L520.54 168.84 L520.87 169.21 L521.21 170.6 L521.55 169.66 L521.89 170.22 L522.23 170 L522.58 171.62 L522.93 170.89 L523.28 170.91 L523.64 171.49 L523.99 171.65 L524.35 172.39 L524.71 173.68 L525.08 173.19 L525.44 174.06 L525.81 173.17 L526.18 172.04 L526.55 173.39 L526.93 173.53 L527.31 174.11 L527.69 173.75 L528.07 172.79 L528.46 175.89 L528.85 176.08 L529.24 175.43 L529.63 175.11 L530.02 176.91 L530.42 175.8 L530.81 176.13 L531.22 177.1 L531.62 178 L532.03 178.46 L532.43 177.17 L532.84 177.12 L533.25 176.86 L533.66 177.6 L534.07 177.38 L534.48 178.59 L534.89 177.01 L535.3 176.78 L535.71 178.96 L536.13 178.79 L536.54 178.23 L536.95 178.13 L537.37 178.31 L537.78 179.72 L538.2 179.95 L538.61 179.72 L539.03 179.31 L539.44 180.13 L539.86 180.36 L540.27 181.34 L540.69 180.16 L541.1 180.8 L541.52 180.95 L541.93 181.22 L542.35 180.85 L542.77 179.02 L543.19 182.04 L543.61 181.88 L544.03 181.77 L544.45 184.81 L544.88 182.91 L545.3 182.83 L545.73 183.27 L546.16 182.93 L546.59 183.05 L547.02 182.72 L547.45 183.32 L547.88 183.99 L548.32 183.72 L548.75 184.62 L549.18 184.17 L549.62 184.3 L550.05 184.24 L550.48 184.78 L550.92 184.5 L551.35 184.03 L551.79 184.35 L552.22 184.24 L552.66 184.26 L553.1 185.22 L553.54 184.57 L553.98 186.31 L554.42 184.68 L554.86 184.84 L555.3 184.95 L555.74 185.02 L556.18 186.44 L556.62 186.44 L557.07 186.57 L557.51 186.04 L557.95 186.13 L558.39 186.76 L558.84 185.55 L559.28 185.84 L559.73 186.09 L560.17 186.87 L560.62 185.67 L561.06 187.29 L561.51 187.04 L561.96 186.11 L562.4 186.64 L562.85 186.58 L563.3 187.51 L563.74 187.1 L564.19 186.69 L564.64 186.64 L565.09 187.86 L565.53 186.33 L565.98 187.24 L566.43 188 L566.88 187.46 L567.33 186.78 L567.77 187.32 L568.22 186.58 L568.67 188.16 L569.12 186.78 L569.57 187.74 L570.01 186.99 L570.46 188.61 L570.91 187.82 L571.36 187.39 L571.81 188.13 L572.26 187.54 L572.7 187.17 L573.15 188.08 L573.6 187.17 L574.05 187.83 L574.5 186.79 L574.95 186.79 L575.4 188.4 L575.84 187.47 L576.29 188.02 L576.74 187.27 L577.19 188.12 L577.64 188.49 L578.09 189.04 L578.54 188.7 L578.99 188.85 L579.43 187.37 L579.88 188.3 L580.33 187.1 L580.78 188.3 L581.23 187.6 L581.68 188.8 L582.13 188.22 L582.58 187.47 L583.02 188.4 L583.47 187.08 L583.92 186.39 L584.37 187.79 L584.82 187.18 L585.27 188.48 L585.71 188.65 L586.16 187.54 L586.61 188.09 L587.06 188.65 L587.51 187.27 L587.96 189 L588.4 188.66 L588.85 189.13 L589.3 185.78 L589.75 188.07 L590.2 188.46 L590.65 186.15 L591.09 187.86 L591.54 188.35 L591.99 188.33 L592.44 189.06 L592.89 189.52 L593.34 189.58 L593.78 186.29 L594.23 191.29 L594.68 189.32 L595.13 188.15 L595.58 189.34 L596.03 190.02 L596.48 188.24 L596.93 189.15 L597.37 189.45 L597.82 190.05 L598.27 188.98 L598.72 189.67 L599.17 190.36 L599.62 190.27 L600.07 190.09 L600.52 190.68 L600.97 190.25 L601.42 190.68 L601.87 190.29 L602.31 189.75 L602.76 190.25 L603.21 190.73 L603.66 190.25 L604.11 188.66 L604.56 188.74 L605.01 190.07 L605.46 188.66 L605.91 190.03 L606.36 188.86 L606.81 190.34 L607.26 189.79 L607.71 188.94 L608.16 189.41 L608.61 190.97 L609.06 191.11 L609.51 189.71 L609.96 189.73 L610.4 189.93 L610.85 190.63 L611.3 190.46 L611.75 189.61 L612.2 189.23 L612.65 189.65 L613.1 190.13 L613.55 189.85 L614 188.94 L614.45 188.97 L614.9 189.15 L615.35 188.61 L615.8 191.04 L616.25 189.3 L616.7 190.67 L617.15 191.14 L617.6 189.71 L618.05 189.76 L618.5 188.39 L618.95 190.62 L619.4 189.92 L619.85 191.2 L620.3 189.89 L620.75 191.32 L621.2 189.79 L621.65 188.69 L622.1 190.33 L622.55 190.2 L623 191.18 L623.45 189.98 L623.9 190.81 L624.35 190.25 L624.8 190.4 L625.25 189.69 L625.7 190.81 L626.14 190.67 L626.59 191.02 L627.04 191.08 L627.49 191.12 L627.94 189.6 L628.39 191.36 L628.84 190.18 L629.29 191.64 L629.74 190.12 L630.19 190.63 L630.64 190.25 L631.09 191.28 L631.54 191.04 L631.99 190.07 L632.44 190.79 L632.89 190.45 L633.34 190.84 L633.79 191.27 L634.24 191.04 L634.69 190.93 L635.14 191.65 L635.59 190.91 L636.04 190.93 L636.49 190.54 L636.94 189.94 L637.39 190.03 L637.84 189.98 L638.29 189.89 L638.74 190.64 L639.19 190.98 L639.64 190.3 L640.09 189.6 L640.54 189.7 L640.99 191.29 L641.44 190.98 L641.89 190.43 L642.34 191.79 L642.4 191.88" fill="none" stroke="#6AA616" stroke-width="2.8" stroke-linejoin="round" stroke-linecap="butt"/>
<line x1="408.8" y1="7.6" x2="644.3" y2="7.6" stroke="#1e1e1e" stroke-width="1.45" />
<line x1="408.8" y1="7" x2="408.8" y2="198" stroke="#1e1e1e" stroke-width="1.45" />
<line x1="408.2" y1="197.4" x2="644.3" y2="197.4" stroke="#1e1e1e" stroke-width="1.45" />
<line x1="644.3" y1="7" x2="644.3" y2="198" stroke="#7DB03A" stroke-width="1.5" />
<line x1="405.2" y1="197.4" x2="408.8" y2="197.4" stroke="#000" stroke-width="1.25" />
<line x1="405.2" y1="165.77" x2="408.8" y2="165.77" stroke="#000" stroke-width="1.25" />
<line x1="405.2" y1="134.13" x2="408.8" y2="134.13" stroke="#000" stroke-width="1.25" />
<line x1="405.2" y1="102.5" x2="408.8" y2="102.5" stroke="#000" stroke-width="1.25" />
<line x1="405.2" y1="70.87" x2="408.8" y2="70.87" stroke="#000" stroke-width="1.25" />
<line x1="405.2" y1="39.23" x2="408.8" y2="39.23" stroke="#000" stroke-width="1.25" />
<line x1="405.2" y1="7.6" x2="408.8" y2="7.6" stroke="#000" stroke-width="1.25" />
<line x1="406.8" y1="187.88" x2="408.8" y2="187.88" stroke="#000" stroke-width="1.25" />
<line x1="406.8" y1="182.31" x2="408.8" y2="182.31" stroke="#000" stroke-width="1.25" />
<line x1="406.8" y1="178.35" x2="408.8" y2="178.35" stroke="#000" stroke-width="1.25" />
<line x1="406.8" y1="175.29" x2="408.8" y2="175.29" stroke="#000" stroke-width="1.25" />
<line x1="406.8" y1="172.78" x2="408.8" y2="172.78" stroke="#000" stroke-width="1.25" />
<line x1="406.8" y1="170.67" x2="408.8" y2="170.67" stroke="#000" stroke-width="1.25" />
<line x1="406.8" y1="168.83" x2="408.8" y2="168.83" stroke="#000" stroke-width="1.25" />
<line x1="406.8" y1="167.21" x2="408.8" y2="167.21" stroke="#000" stroke-width="1.25" />
<line x1="406.8" y1="156.24" x2="408.8" y2="156.24" stroke="#000" stroke-width="1.25" />
<line x1="406.8" y1="150.67" x2="408.8" y2="150.67" stroke="#000" stroke-width="1.25" />
<line x1="406.8" y1="146.72" x2="408.8" y2="146.72" stroke="#000" stroke-width="1.25" />
<line x1="406.8" y1="143.66" x2="408.8" y2="143.66" stroke="#000" stroke-width="1.25" />
<line x1="406.8" y1="141.15" x2="408.8" y2="141.15" stroke="#000" stroke-width="1.25" />
<line x1="406.8" y1="139.03" x2="408.8" y2="139.03" stroke="#000" stroke-width="1.25" />
<line x1="406.8" y1="137.2" x2="408.8" y2="137.2" stroke="#000" stroke-width="1.25" />
<line x1="406.8" y1="135.58" x2="408.8" y2="135.58" stroke="#000" stroke-width="1.25" />
<line x1="406.8" y1="124.61" x2="408.8" y2="124.61" stroke="#000" stroke-width="1.25" />
<line x1="406.8" y1="119.04" x2="408.8" y2="119.04" stroke="#000" stroke-width="1.25" />
<line x1="406.8" y1="115.09" x2="408.8" y2="115.09" stroke="#000" stroke-width="1.25" />
<line x1="406.8" y1="112.02" x2="408.8" y2="112.02" stroke="#000" stroke-width="1.25" />
<line x1="406.8" y1="109.52" x2="408.8" y2="109.52" stroke="#000" stroke-width="1.25" />
<line x1="406.8" y1="107.4" x2="408.8" y2="107.4" stroke="#000" stroke-width="1.25" />
<line x1="406.8" y1="105.57" x2="408.8" y2="105.57" stroke="#000" stroke-width="1.25" />
<line x1="406.8" y1="103.95" x2="408.8" y2="103.95" stroke="#000" stroke-width="1.25" />
<line x1="406.8" y1="92.98" x2="408.8" y2="92.98" stroke="#000" stroke-width="1.25" />
<line x1="406.8" y1="87.41" x2="408.8" y2="87.41" stroke="#000" stroke-width="1.25" />
<line x1="406.8" y1="83.45" x2="408.8" y2="83.45" stroke="#000" stroke-width="1.25" />
<line x1="406.8" y1="80.39" x2="408.8" y2="80.39" stroke="#000" stroke-width="1.25" />
<line x1="406.8" y1="77.88" x2="408.8" y2="77.88" stroke="#000" stroke-width="1.25" />
<line x1="406.8" y1="75.77" x2="408.8" y2="75.77" stroke="#000" stroke-width="1.25" />
<line x1="406.8" y1="73.93" x2="408.8" y2="73.93" stroke="#000" stroke-width="1.25" />
<line x1="406.8" y1="72.31" x2="408.8" y2="72.31" stroke="#000" stroke-width="1.25" />
<line x1="406.8" y1="61.34" x2="408.8" y2="61.34" stroke="#000" stroke-width="1.25" />
<line x1="406.8" y1="55.77" x2="408.8" y2="55.77" stroke="#000" stroke-width="1.25" />
<line x1="406.8" y1="51.82" x2="408.8" y2="51.82" stroke="#000" stroke-width="1.25" />
<line x1="406.8" y1="48.76" x2="408.8" y2="48.76" stroke="#000" stroke-width="1.25" />
<line x1="406.8" y1="46.25" x2="408.8" y2="46.25" stroke="#000" stroke-width="1.25" />
<line x1="406.8" y1="44.13" x2="408.8" y2="44.13" stroke="#000" stroke-width="1.25" />
<line x1="406.8" y1="42.3" x2="408.8" y2="42.3" stroke="#000" stroke-width="1.25" />
<line x1="406.8" y1="40.68" x2="408.8" y2="40.68" stroke="#000" stroke-width="1.25" />
<line x1="406.8" y1="29.71" x2="408.8" y2="29.71" stroke="#000" stroke-width="1.25" />
<line x1="406.8" y1="24.14" x2="408.8" y2="24.14" stroke="#000" stroke-width="1.25" />
<line x1="406.8" y1="20.19" x2="408.8" y2="20.19" stroke="#000" stroke-width="1.25" />
<line x1="406.8" y1="17.12" x2="408.8" y2="17.12" stroke="#000" stroke-width="1.25" />
<line x1="406.8" y1="14.62" x2="408.8" y2="14.62" stroke="#000" stroke-width="1.25" />
<line x1="406.8" y1="12.5" x2="408.8" y2="12.5" stroke="#000" stroke-width="1.25" />
<line x1="406.8" y1="10.67" x2="408.8" y2="10.67" stroke="#000" stroke-width="1.25" />
<line x1="406.8" y1="9.05" x2="408.8" y2="9.05" stroke="#000" stroke-width="1.25" />
<text x="402.9" y="202" font-size="12" text-anchor="end" stroke="#000" stroke-width="0.2">10<tspan font-size="8.5" dy="-5.5">-3</tspan></text>
<text x="402.9" y="170.37" font-size="12" text-anchor="end" stroke="#000" stroke-width="0.2">10<tspan font-size="8.5" dy="-5.5">-2</tspan></text>
<text x="402.9" y="138.73" font-size="12" text-anchor="end" stroke="#000" stroke-width="0.2">10<tspan font-size="8.5" dy="-5.5">-1</tspan></text>
<text x="402.9" y="107.1" font-size="12" text-anchor="end" stroke="#000" stroke-width="0.2">10<tspan font-size="8.5" dy="-5.5">0</tspan></text>
<text x="402.9" y="75.47" font-size="12" text-anchor="end" stroke="#000" stroke-width="0.2">10<tspan font-size="8.5" dy="-5.5">1</tspan></text>
<text x="402.9" y="43.83" font-size="12" text-anchor="end" stroke="#000" stroke-width="0.2">10<tspan font-size="8.5" dy="-5.5">2</tspan></text>
<text x="402.9" y="12.2" font-size="12" text-anchor="end" stroke="#000" stroke-width="0.2">10<tspan font-size="8.5" dy="-5.5">3</tspan></text>
<line x1="644.3" y1="197.4" x2="647.9" y2="197.4" stroke="#7DB03A" stroke-width="1.3" />
<line x1="644.3" y1="149.95" x2="647.9" y2="149.95" stroke="#7DB03A" stroke-width="1.3" />
<line x1="644.3" y1="102.5" x2="647.9" y2="102.5" stroke="#7DB03A" stroke-width="1.3" />
<line x1="644.3" y1="55.05" x2="647.9" y2="55.05" stroke="#7DB03A" stroke-width="1.3" />
<line x1="644.3" y1="7.6" x2="647.9" y2="7.6" stroke="#7DB03A" stroke-width="1.3" />
<line x1="644.3" y1="173.68" x2="646.3" y2="173.68" stroke="#7DB03A" stroke-width="1.3" />
<line x1="644.3" y1="126.22" x2="646.3" y2="126.22" stroke="#7DB03A" stroke-width="1.3" />
<line x1="644.3" y1="78.78" x2="646.3" y2="78.78" stroke="#7DB03A" stroke-width="1.3" />
<line x1="644.3" y1="31.32" x2="646.3" y2="31.32" stroke="#7DB03A" stroke-width="1.3" />
<text x="650.7" y="201.3" font-size="12" text-anchor="start" fill="#6AA616"  stroke="#6AA616" stroke-width="0.2">0.0</text>
<text x="650.7" y="153.85" font-size="12" text-anchor="start" fill="#6AA616"  stroke="#6AA616" stroke-width="0.2">0.5</text>
<text x="650.7" y="106.4" font-size="12" text-anchor="start" fill="#6AA616"  stroke="#6AA616" stroke-width="0.2">1.0</text>
<text x="650.7" y="58.95" font-size="12" text-anchor="start" fill="#6AA616"  stroke="#6AA616" stroke-width="0.2">1.5</text>
<text x="650.7" y="11.5" font-size="12" text-anchor="start" fill="#6AA616"  stroke="#6AA616" stroke-width="0.2">2.0</text>
<line x1="424.5" y1="197.4" x2="424.5" y2="201" stroke="#000" stroke-width="1.25" />
<line x1="455.9" y1="197.4" x2="455.9" y2="201" stroke="#000" stroke-width="1.25" />
<line x1="487.3" y1="197.4" x2="487.3" y2="201" stroke="#000" stroke-width="1.25" />
<line x1="518.7" y1="197.4" x2="518.7" y2="201" stroke="#000" stroke-width="1.25" />
<line x1="550.1" y1="197.4" x2="550.1" y2="201" stroke="#000" stroke-width="1.25" />
<line x1="581.5" y1="197.4" x2="581.5" y2="201" stroke="#000" stroke-width="1.25" />
<line x1="612.9" y1="197.4" x2="612.9" y2="201" stroke="#000" stroke-width="1.25" />
<line x1="644.3" y1="197.4" x2="644.3" y2="201" stroke="#000" stroke-width="1.25" />
<line x1="408.8" y1="197.4" x2="408.8" y2="199.4" stroke="#000" stroke-width="1.25" />
<line x1="440.2" y1="197.4" x2="440.2" y2="199.4" stroke="#000" stroke-width="1.25" />
<line x1="471.6" y1="197.4" x2="471.6" y2="199.4" stroke="#000" stroke-width="1.25" />
<line x1="503" y1="197.4" x2="503" y2="199.4" stroke="#000" stroke-width="1.25" />
<line x1="534.4" y1="197.4" x2="534.4" y2="199.4" stroke="#000" stroke-width="1.25" />
<line x1="565.8" y1="197.4" x2="565.8" y2="199.4" stroke="#000" stroke-width="1.25" />
<line x1="597.2" y1="197.4" x2="597.2" y2="199.4" stroke="#000" stroke-width="1.25" />
<line x1="628.6" y1="197.4" x2="628.6" y2="199.4" stroke="#000" stroke-width="1.25" />
<text x="424.5" y="213.3" font-size="12" text-anchor="middle" fill="#000"  stroke="#000" stroke-width="0.2">-40</text>
<text x="455.9" y="213.3" font-size="12" text-anchor="middle" fill="#000"  stroke="#000" stroke-width="0.2">-20</text>
<text x="487.3" y="213.3" font-size="12" text-anchor="middle" fill="#000"  stroke="#000" stroke-width="0.2">0</text>
<text x="518.7" y="213.3" font-size="12" text-anchor="middle" fill="#000"  stroke="#000" stroke-width="0.2">20</text>
<text x="550.1" y="213.3" font-size="12" text-anchor="middle" fill="#000"  stroke="#000" stroke-width="0.2">40</text>
<text x="581.5" y="213.3" font-size="12" text-anchor="middle" fill="#000"  stroke="#000" stroke-width="0.2">60</text>
<text x="612.9" y="213.3" font-size="12" text-anchor="middle" fill="#000"  stroke="#000" stroke-width="0.2">80</text>
<text x="644.3" y="213.3" font-size="12" text-anchor="middle" fill="#000"  stroke="#000" stroke-width="0.2">100</text>
<text x="474.1" y="230.8" font-size="12.5" text-anchor="start" fill="#000"  stroke="#000" stroke-width="0.2">Temperature (°C)</text>
<text transform="translate(365.5 102.5) rotate(-90)" font-size="12.5" text-anchor="middle" fill="#CC625A">Storage Modulus (MPa)</text>
<text transform="translate(380.5 105.1) rotate(-90)" font-size="12.5" text-anchor="middle" fill="#437DC4">Loss Modulus (MPa)</text>
<text transform="translate(681 100.7) rotate(-90)" font-size="12.2" text-anchor="middle" fill="#6AA616" stroke="#6AA616" stroke-width="0.2">tan δ</text>
<text x="342.1" y="18.4" font-size="20.3" text-anchor="start" fill="#000"  stroke="#000" stroke-width="0.2">b</text>
<text x="580.4" y="31.6" font-size="13.2" stroke="#000" stroke-width="0.2">In CO<tspan font-size="9.6" dx="0" dy="3.4">2</tspan></text>
<path d="M69.9 260.8 L70.3 261 L70.71 261.2 L71.11 261.4 L71.51 261.59 L71.92 261.79 L72.33 261.99 L72.73 262.18 L73.14 262.36 L73.56 262.54 L73.97 262.71 L74.39 262.88 L74.81 263.04 L75.23 263.21 L75.64 263.39 L76.05 263.57 L76.45 263.77 L76.85 263.98 L77.25 264.2 L77.64 264.42 L78.03 264.65 L78.41 264.88 L78.79 265.12 L79.16 265.37 L79.53 265.63 L79.89 265.9 L80.25 266.18 L80.6 266.46 L80.93 266.76 L81.27 267.06 L81.59 267.37 L81.92 267.69 L82.24 268 L82.55 268.33 L82.86 268.65 L83.17 268.98 L83.48 269.31 L83.78 269.64 L84.08 269.98 L84.37 270.32 L84.66 270.66 L84.94 271.01 L85.22 271.37 L85.48 271.73 L85.75 272.09 L86.02 272.46 L86.28 272.82 L86.55 273.18 L86.83 273.54 L87.11 273.89 L87.39 274.24 L87.67 274.59 L87.95 274.95 L88.23 275.3 L88.51 275.65 L88.79 276 L89.07 276.35 L89.35 276.71 L89.63 277.06 L89.9 277.41 L90.18 277.77 L90.46 278.12 L90.74 278.47 L91.02 278.83 L91.29 279.19 L91.57 279.54 L91.84 279.9 L92.1 280.27 L92.37 280.63 L92.63 281 L92.89 281.37 L93.14 281.73 L93.4 282.11 L93.65 282.48 L93.9 282.85 L94.15 283.22 L94.4 283.6 L94.65 283.97 L94.9 284.35 L95.15 284.72 L95.39 285.1 L95.64 285.48 L95.88 285.86 L96.12 286.24 L96.36 286.62 L96.6 287 L96.84 287.38 L97.08 287.76 L97.32 288.14 L97.55 288.53 L97.79 288.91 L98.03 289.29 L98.27 289.67 L98.51 290.05 L98.74 290.44 L98.98 290.82 L99.22 291.2 L99.45 291.59 L99.68 291.97 L99.91 292.36 L100.13 292.75 L100.35 293.15 L100.57 293.54 L100.78 293.94 L100.99 294.33 L101.2 294.73 L101.41 295.13 L101.61 295.53 L101.82 295.93 L102.02 296.34 L102.22 296.74 L102.42 297.14 L102.61 297.55 L102.81 297.95 L103 298.36 L103.19 298.77 L103.38 299.17 L103.57 299.58 L103.77 299.99 L103.96 300.4 L104.15 300.8 L104.35 301.21 L104.54 301.61 L104.74 302.02 L104.94 302.42 L105.13 302.83 L105.33 303.23 L105.53 303.64 L105.73 304.04 L105.93 304.44 L106.12 304.85 L106.32 305.25 L106.53 305.65 L106.73 306.05 L106.93 306.46 L107.13 306.86 L107.33 307.26 L107.54 307.66 L107.74 308.06 L107.94 308.46 L108.15 308.87 L108.35 309.27 L108.56 309.67 L108.77 310.07 L108.97 310.47 L109.18 310.86 L109.39 311.26 L109.6 311.66 L109.81 312.06 L110.02 312.45 L110.24 312.85 L110.45 313.25 L110.66 313.64 L110.88 314.04 L111.09 314.43 L111.31 314.83 L111.52 315.22 L111.74 315.62 L111.95 316.02 L112.17 316.41 L112.39 316.81 L112.6 317.2 L112.82 317.59 L113.04 317.99 L113.26 318.38 L113.48 318.77 L113.7 319.17 L113.91 319.56 L114.13 319.96 L114.34 320.35 L114.55 320.75 L114.77 321.15 L114.98 321.54 L115.18 321.94 L115.39 322.34 L115.59 322.74 L115.8 323.14 L116 323.55 L116.2 323.95 L116.41 324.35 L116.61 324.75 L116.81 325.15 L117.01 325.56 L117.22 325.96 L117.42 326.36 L117.62 326.76 L117.83 327.16 L118.03 327.56 L118.24 327.96 L118.45 328.36 L118.66 328.76 L118.87 329.16 L119.08 329.55 L119.3 329.95 L119.52 330.34 L119.74 330.73 L119.97 331.12 L120.19 331.51 L120.42 331.89 L120.66 332.28 L120.89 332.67 L121.12 333.05 L121.36 333.43 L121.59 333.82 L121.82 334.2 L122.05 334.59 L122.29 334.98 L122.51 335.36 L122.74 335.75 L122.97 336.14 L123.2 336.53 L123.43 336.91 L123.66 337.3 L123.88 337.69 L124.11 338.08 L124.34 338.47 L124.57 338.85 L124.8 339.24 L125.03 339.62 L125.27 340.01 L125.5 340.39 L125.74 340.78 L125.97 341.16 L126.21 341.54 L126.46 341.92 L126.7 342.3 L126.94 342.68 L127.19 343.05 L127.44 343.43 L127.68 343.8 L127.93 344.18 L128.18 344.55 L128.43 344.93 L128.69 345.3 L128.94 345.67 L129.19 346.05 L129.44 346.42 L129.69 346.79 L129.95 347.16 L130.2 347.54 L130.45 347.91 L130.71 348.28 L130.96 348.65 L131.21 349.02 L131.47 349.39 L131.73 349.76 L131.98 350.13 L132.24 350.5 L132.5 350.87 L132.75 351.24 L133.01 351.61 L133.27 351.98 L133.53 352.34 L133.79 352.71 L134.05 353.08 L134.32 353.44 L134.58 353.81 L134.85 354.17 L135.11 354.53 L135.38 354.89 L135.65 355.26 L135.92 355.62 L136.18 355.98 L136.45 356.34 L136.72 356.7 L136.99 357.06 L137.26 357.42 L137.53 357.78 L137.8 358.14 L138.08 358.5 L138.35 358.86 L138.62 359.21 L138.89 359.57 L139.17 359.93 L139.44 360.28 L139.72 360.64 L140 360.99 L140.27 361.35 L140.55 361.7 L140.83 362.06 L141.1 362.41 L141.38 362.77 L141.66 363.12 L141.94 363.47 L142.22 363.82 L142.5 364.18 L142.79 364.53 L143.07 364.87 L143.35 365.22 L143.64 365.57 L143.93 365.92 L144.22 366.26 L144.51 366.6 L144.81 366.94 L145.1 367.28 L145.4 367.62 L145.7 367.96 L146 368.29 L146.3 368.63 L146.6 368.96 L146.9 369.29 L147.2 369.63 L147.51 369.96 L147.81 370.29 L148.11 370.62 L148.42 370.96 L148.72 371.29 L149.03 371.61 L149.34 371.94 L149.65 372.27 L149.96 372.6 L150.27 372.92 L150.58 373.25 L150.89 373.57 L151.21 373.89 L151.52 374.22 L151.83 374.54 L152.14 374.87 L152.45 375.19 L152.76 375.52 L153.07 375.84 L153.39 376.17 L153.7 376.49 L154.01 376.81 L154.33 377.14 L154.64 377.46 L154.96 377.77 L155.28 378.09 L155.6 378.41 L155.92 378.72 L156.25 379.03 L156.57 379.34 L156.9 379.65 L157.23 379.96 L157.55 380.27 L157.88 380.58 L158.21 380.88 L158.54 381.19 L158.87 381.49 L159.21 381.8 L159.54 382.1 L159.87 382.4 L160.21 382.7 L160.55 383 L160.88 383.3 L161.22 383.59 L161.56 383.89 L161.91 384.18 L162.25 384.47 L162.59 384.76 L162.94 385.05 L163.29 385.33 L163.64 385.62 L163.98 385.9 L164.34 386.18 L164.69 386.47 L165.04 386.75 L165.39 387.02 L165.75 387.3 L166.1 387.58 L166.46 387.85 L166.82 388.13 L167.17 388.4 L167.54 388.67 L167.9 388.93 L168.26 389.2 L168.63 389.46 L168.99 389.72 L169.36 389.99 L169.72 390.25 L170.09 390.51 L170.46 390.77 L170.82 391.03 L171.19 391.29 L171.56 391.55 L171.93 391.81 L172.3 392.06 L172.67 392.32 L173.04 392.57 L173.41 392.83 L173.78 393.08 L174.16 393.33 L174.53 393.58 L174.9 393.83 L175.28 394.08 L175.65 394.33 L176.03 394.58 L176.4 394.83 L176.78 395.08 L177.16 395.32 L177.53 395.57 L177.91 395.81 L178.29 396.05 L178.67 396.29 L179.06 396.53 L179.44 396.76 L179.82 397 L180.21 397.23 L180.59 397.47 L180.98 397.7 L181.36 397.93 L181.75 398.16 L182.13 398.4 L182.52 398.62 L182.91 398.85 L183.3 399.07 L183.69 399.29 L184.09 399.51 L184.48 399.73 L184.88 399.94 L185.28 400.14 L185.68 400.35 L186.08 400.55 L186.49 400.75 L186.89 400.94 L187.3 401.13 L187.71 401.32 L188.12 401.51 L188.53 401.69 L188.94 401.88 L189.35 402.06 L189.77 402.23 L190.18 402.03 L190.6 402.29 L191.01 402.52 L191.43 402.66 L191.85 403.1 L192.28 403.2 L192.7 403.3 L193.12 403.26 L193.55 403.63 L193.97 403.78 L194.4 404.29 L194.83 404.08 L195.26 404.43 L195.69 404.74 L196.12 404.55 L196.54 404.59 L196.97 405.16 L197.4 404.94 L197.83 405.33 L198.26 405.4 L198.7 405.21 L199.13 405.48 L199.56 405.77 L199.99 406.06 L200.43 406.09 L200.86 405.89 L201.29 406.2 L201.73 406.08 L202.16 406.63 L202.6 406.63 L203.03 406.59 L203.47 407.01 L203.9 406.85 L204.34 406.96 L204.78 407.13 L205.21 407 L205.65 407.12 L206.09 407.34 L206.53 407.72 L206.97 407.78 L207.4 407.64 L207.84 407.85 L208.28 407.64 L208.72 408.03 L209.16 408.23 L209.6 407.93 L210.04 408.96 L210.48 408.28 L210.92 408.58 L211.36 408.44 L211.8 408.71 L212.24 408.72 L212.69 408.84 L213.13 408.76 L213.57 408.82 L214.01 408.77 L214.45 409.08 L214.89 409.3 L215.33 409.18 L215.77 409.28 L216.22 409.36 L216.66 409.72 L217.1 409.75 L217.54 409.62 L217.98 409.68 L218.43 409.81 L218.87 410.21 L219.31 410.29 L219.76 410.12 L220.2 410.09 L220.65 410.24 L221.09 410.09 L221.54 410.51 L221.98 410.37 L222.43 410.76 L222.87 410.43 L223.32 410.84 L223.77 410.91 L224.21 410.84 L224.66 410.59 L225.1 411.04 L225.55 411.19 L226 410.87 L226.44 411.24 L226.89 410.99 L227.34 411.39 L227.78 411.02 L228.23 411.44 L228.68 411.98 L229.12 411.59 L229.57 411.42 L230.02 411.35 L230.47 411.6 L230.91 411.4 L231.36 411.76 L231.81 411.38 L232.26 411.74 L232.7 411.91 L233.15 411.44 L233.6 411.68 L234.05 411.51 L234.5 411.64 L234.95 411.73 L235.39 412.2 L235.84 411.85 L236.29 411.93 L236.74 412.21 L237.19 412.18 L237.64 411.93 L238.08 412.34 L238.53 412.39 L238.98 412.13 L239.43 412.43 L239.88 412.38 L240.33 412.33 L240.77 412.17 L241.22 412.36 L241.67 412.4 L242.12 412.37 L242.57 412.4 L243.02 412.57 L243.46 412.82 L243.91 412.66 L244.36 412.73 L244.81 412.84 L245.26 412.8 L245.71 412.86 L246.15 412.81 L246.6 413.17 L247.05 413.1 L247.5 413.12 L247.95 413.13 L248.39 412.79 L248.84 413.21 L249.29 413.02 L249.74 413.13 L250.19 413.24 L250.64 413.42 L251.08 413.43 L251.53 413.43 L251.98 413.55 L252.43 413.43 L252.88 413.32 L253.33 413.64 L253.77 413.56 L254.22 413.83 L254.67 413.39 L255.12 413.47 L255.57 413.68 L256.02 413.93 L256.46 413.75 L256.91 413.79 L257.36 414.04 L257.81 413.82 L258.26 414.08 L258.71 413.95 L259.15 413.82 L259.6 413.83 L260.05 414.15 L260.5 413.95 L260.95 414.19 L261.4 414.26 L261.85 413.96 L262.29 413.88 L262.74 414.31 L263.19 413.95 L263.64 414.12 L264.09 414.17 L264.54 414.1 L264.98 414.39 L265.43 414.19 L265.88 414.29 L266.33 414.71 L266.78 414.48 L267.23 414.82 L267.67 414.91 L268.12 414.71 L268.57 415.02 L269.02 414.19 L269.47 415.14 L269.92 414.77 L270.37 414.78 L270.81 415.11 L271.26 414.98 L271.71 415.08 L272.16 415 L272.61 415.26 L273.06 415.46 L273.5 415.18 L273.95 415.31 L274.4 415.06 L274.85 415.23 L275.3 415.58 L275.75 415.14 L276.19 415.44 L276.64 415.58 L277.09 415.05 L277.54 415.51 L277.99 415.49 L278.44 415.72 L278.88 415.41 L279.33 415.63 L279.78 415.53 L280.23 415.6 L280.68 415.8 L281.13 415.7 L281.57 416.13 L282.02 415.67 L282.47 415.73 L282.92 415.8 L283.37 416.06 L283.82 416.03 L284.26 415.9 L284.71 415.97 L285.16 416.04 L285.61 415.99 L286.06 415.97 L286.51 415.98 L286.95 416.1 L287.4 416.06 L287.85 415.55 L288.3 416.21 L288.75 416.48 L289.2 416.28 L289.65 416.49 L290.09 416.49 L290.54 416.78 L290.99 416.44 L291.44 416.68 L291.89 416.79 L292.34 416.67 L292.79 416.97 L293.24 416.93 L293.69 417.12 L294.13 417.16 L294.58 416.89 L295.03 416.83 L295.48 417.15 L295.93 417.35 L296.38 417.14 L296.83 417.02 L297.28 417.2 L297.73 417.4 L298.17 417.26 L298.62 417.11 L299.07 417.57 L299.52 417.23 L299.97 417.5 L300.42 417.31 L300.87 417.25 L301.31 417.2 L301.76 417.45 L302.21 417.75 L302.4 417.43" fill="none" stroke="#CC625A" stroke-width="2.5" stroke-linejoin="round" stroke-linecap="butt"/>
<path d="M69.9 263.9 L70.25 264.18 L70.6 264.46 L70.95 264.74 L71.3 265.03 L71.66 265.31 L72.01 265.59 L72.36 265.87 L72.7 266.16 L73.05 266.44 L73.4 266.73 L73.75 267.01 L74.1 267.29 L74.45 267.58 L74.8 267.86 L75.14 268.15 L75.49 268.44 L75.83 268.73 L76.17 269.03 L76.51 269.32 L76.84 269.63 L77.17 269.94 L77.5 270.24 L77.82 270.55 L78.14 270.87 L78.46 271.18 L78.78 271.5 L79.1 271.82 L79.41 272.15 L79.72 272.47 L80.03 272.8 L80.34 273.13 L80.64 273.46 L80.94 273.8 L81.24 274.13 L81.54 274.47 L81.83 274.81 L82.12 275.15 L82.41 275.5 L82.7 275.84 L82.99 276.19 L83.27 276.54 L83.55 276.89 L83.83 277.25 L84.1 277.6 L84.38 277.96 L84.65 278.32 L84.91 278.68 L85.18 279.04 L85.45 279.41 L85.71 279.77 L85.97 280.14 L86.23 280.51 L86.49 280.88 L86.74 281.25 L86.99 281.62 L87.24 282 L87.49 282.37 L87.74 282.75 L87.98 283.13 L88.22 283.51 L88.46 283.89 L88.7 284.27 L88.93 284.65 L89.17 285.04 L89.4 285.42 L89.63 285.81 L89.86 286.2 L90.08 286.59 L90.31 286.98 L90.53 287.37 L90.75 287.76 L90.97 288.15 L91.19 288.55 L91.41 288.94 L91.62 289.34 L91.83 289.73 L92.04 290.13 L92.25 290.53 L92.45 290.93 L92.66 291.33 L92.86 291.73 L93.06 292.14 L93.26 292.54 L93.46 292.94 L93.66 293.35 L93.86 293.75 L94.06 294.15 L94.26 294.56 L94.45 294.96 L94.65 295.37 L94.85 295.77 L95.04 296.18 L95.24 296.58 L95.44 296.99 L95.64 297.39 L95.84 297.79 L96.04 298.2 L96.24 298.6 L96.43 299 L96.63 299.41 L96.82 299.82 L97.01 300.22 L97.2 300.63 L97.38 301.04 L97.57 301.45 L97.75 301.86 L97.93 302.28 L98.12 302.69 L98.3 303.1 L98.48 303.51 L98.65 303.93 L98.83 304.34 L99 304.76 L99.18 305.17 L99.35 305.59 L99.52 306 L99.69 306.42 L99.86 306.84 L100.02 307.26 L100.19 307.67 L100.35 308.09 L100.51 308.51 L100.67 308.93 L100.83 309.35 L100.99 309.78 L101.15 310.2 L101.31 310.62 L101.47 311.04 L101.63 311.46 L101.79 311.88 L101.94 312.3 L102.1 312.72 L102.26 313.14 L102.42 313.57 L102.58 313.99 L102.74 314.41 L102.9 314.83 L103.06 315.25 L103.22 315.67 L103.38 316.09 L103.55 316.51 L103.71 316.93 L103.88 317.34 L104.04 317.76 L104.21 318.18 L104.37 318.6 L104.54 319.02 L104.71 319.44 L104.87 319.85 L105.04 320.27 L105.21 320.69 L105.38 321.11 L105.55 321.52 L105.72 321.94 L105.89 322.36 L106.06 322.77 L106.23 323.19 L106.4 323.6 L106.57 324.02 L106.75 324.44 L106.92 324.85 L107.09 325.27 L107.27 325.68 L107.44 326.1 L107.62 326.51 L107.79 326.93 L107.97 327.34 L108.14 327.75 L108.32 328.17 L108.5 328.58 L108.68 328.99 L108.86 329.41 L109.03 329.82 L109.21 330.23 L109.39 330.64 L109.57 331.06 L109.76 331.47 L109.94 331.88 L110.12 332.29 L110.3 332.7 L110.48 333.12 L110.67 333.53 L110.85 333.94 L111.03 334.35 L111.22 334.76 L111.4 335.17 L111.59 335.58 L111.77 335.99 L111.96 336.4 L112.15 336.81 L112.33 337.22 L112.52 337.63 L112.71 338.03 L112.9 338.44 L113.09 338.85 L113.28 339.26 L113.47 339.67 L113.65 340.08 L113.84 340.49 L114.03 340.89 L114.22 341.3 L114.41 341.71 L114.59 342.12 L114.78 342.53 L114.96 342.94 L115.15 343.35 L115.33 343.76 L115.51 344.18 L115.69 344.59 L115.87 345 L116.06 345.41 L116.24 345.82 L116.41 346.24 L116.59 346.65 L116.77 347.06 L116.96 347.47 L117.14 347.89 L117.32 348.3 L117.5 348.71 L117.69 349.12 L117.87 349.53 L118.06 349.94 L118.26 350.34 L118.46 350.74 L118.67 351.14 L118.88 351.54 L119.09 351.93 L119.31 352.33 L119.52 352.73 L119.72 353.13 L119.92 353.53 L120.11 353.94 L120.31 354.35 L120.5 354.75 L120.69 355.16 L120.88 355.57 L121.06 355.98 L121.25 356.39 L121.44 356.8 L121.63 357.21 L121.81 357.62 L122 358.02 L122.19 358.43 L122.38 358.84 L122.57 359.25 L122.76 359.66 L122.95 360.06 L123.15 360.47 L123.34 360.87 L123.54 361.28 L123.74 361.68 L123.94 362.08 L124.15 362.49 L124.35 362.89 L124.56 363.29 L124.77 363.68 L124.98 364.08 L125.19 364.48 L125.4 364.88 L125.61 365.27 L125.83 365.67 L126.04 366.06 L126.26 366.46 L126.48 366.85 L126.7 367.25 L126.92 367.64 L127.14 368.03 L127.36 368.42 L127.58 368.81 L127.8 369.21 L128.03 369.6 L128.25 369.99 L128.48 370.37 L128.7 370.76 L128.93 371.15 L129.16 371.54 L129.39 371.92 L129.62 372.31 L129.86 372.69 L130.09 373.08 L130.33 373.46 L130.56 373.84 L130.8 374.23 L131.04 374.61 L131.28 374.99 L131.52 375.37 L131.77 375.75 L132.01 376.12 L132.26 376.5 L132.51 376.88 L132.75 377.25 L133 377.63 L133.26 378 L133.51 378.37 L133.76 378.74 L134.01 379.12 L134.27 379.49 L134.52 379.86 L134.78 380.23 L135.04 380.6 L135.29 380.97 L135.55 381.33 L135.81 381.7 L136.07 382.07 L136.34 382.43 L136.6 382.8 L136.87 383.16 L137.13 383.53 L137.4 383.89 L137.66 384.25 L137.93 384.61 L138.2 384.97 L138.47 385.33 L138.74 385.69 L139.02 386.05 L139.29 386.41 L139.56 386.76 L139.84 387.12 L140.12 387.47 L140.39 387.83 L140.67 388.18 L140.95 388.53 L141.23 388.89 L141.51 389.24 L141.8 389.59 L142.08 389.93 L142.37 390.28 L142.65 390.63 L142.94 390.97 L143.23 391.32 L143.52 391.66 L143.81 392.01 L144.11 392.35 L144.4 392.69 L144.69 393.03 L144.99 393.37 L145.29 393.7 L145.59 394.04 L145.89 394.37 L146.2 394.7 L146.5 395.04 L146.81 395.36 L147.12 395.69 L147.43 396.02 L147.74 396.34 L148.05 396.67 L148.37 396.99 L148.68 397.31 L149 397.62 L149.32 397.94 L149.64 398.25 L149.97 398.57 L150.29 398.88 L150.62 399.19 L150.94 399.5 L151.27 399.81 L151.59 400.12 L151.92 400.43 L152.25 400.74 L152.57 401.05 L152.9 401.36 L153.23 401.66 L153.56 401.97 L153.89 402.27 L154.23 402.58 L154.56 402.88 L154.89 403.18 L155.23 403.49 L155.56 403.79 L155.9 404.09 L156.23 404.38 L156.57 404.68 L156.91 404.98 L157.25 405.28 L157.58 405.57 L157.92 405.87 L158.26 406.16 L158.61 406.46 L158.95 406.75 L159.29 407.04 L159.64 407.33 L159.98 407.62 L160.33 407.9 L160.68 408.19 L161.03 408.47 L161.38 408.75 L161.73 409.03 L162.09 409.3 L162.45 409.58 L162.81 409.85 L163.16 410.12 L163.52 410.39 L163.89 410.66 L164.25 410.92 L164.62 411.19 L164.98 411.45 L165.35 411.7 L165.72 411.96 L166.1 412.21 L166.47 412.45 L166.85 412.7 L167.23 412.94 L167.62 413.17 L168.01 413.4 L168.4 413.62 L168.79 413.84 L169.18 414.06 L169.58 414.27 L169.98 414.48 L170.38 414.68 L170.79 414.88 L171.19 415.07 L171.6 415.27 L172 415.46 L172.41 415.65 L172.82 415.84 L173.23 416.02 L173.64 416.21 L174.05 416.39 L174.46 416.57 L174.88 416.75 L175.29 416.92 L175.71 417.1 L176.13 417.27 L176.54 417.43 L176.96 417.59 L177.38 417.75 L177.81 417.91 L178.23 418.06 L178.65 418.21 L179.08 418.36 L179.51 418.5 L179.93 418.64 L180.36 418.77 L180.79 418.9 L181.23 419.03 L181.66 419.15 L182.09 419.27 L182.53 419.39 L182.96 419.5 L183.4 419.62 L183.84 419.72 L184.27 419.83 L184.71 419.93 L185.15 420.03 L185.59 420.13 L186.03 420.23 L186.47 420.32 L186.91 420.41 L187.35 420.49 L187.79 420.58 L188.24 420.66 L188.68 420.74 L189.12 420.81 L189.57 420.89 L190.01 420.63 L190.46 420.93 L190.9 420.8 L191.35 421.26 L191.79 421.39 L192.24 420.59 L192.68 421.29 L193.13 421.19 L193.58 421.63 L194.02 421.39 L194.47 421.55 L194.92 421.57 L195.36 421.88 L195.81 421.56 L196.26 421.87 L196.71 421.96 L197.16 421.88 L197.6 421.63 L198.05 421.8 L198.5 422.04 L198.95 421.87 L199.4 421.61 L199.85 422.02 L200.3 421.86 L200.75 421.89 L201.19 422.11 L201.64 422.52 L202.09 422.48 L202.54 422.51 L202.99 422.36 L203.44 422.31 L203.89 422.41 L204.34 422.46 L204.79 422.3 L205.24 422.3 L205.69 421.5 L206.14 421.41 L206.59 422.32 L207.04 422.4 L207.49 421.97 L207.94 422.03 L208.39 421.99 L208.84 422.48 L209.29 422.38 L209.74 422.23 L210.19 421.62 L210.64 422.47 L211.09 422.35 L211.54 422.35 L211.99 422.23 L212.44 422.26 L212.89 422.27 L213.34 422.24 L213.79 422.22 L214.24 422.21 L214.69 422.36 L215.14 422.22 L215.59 422.49 L216.04 422.45 L216.49 422.2 L216.94 422.52 L217.39 423.16 L217.84 422.27 L218.29 422.24 L218.74 422.03 L219.19 422 L219.64 421.99 L220.09 422.02 L220.54 422.29 L220.99 421.99 L221.44 422.44 L221.89 422.36 L222.34 422.17 L222.79 422.43 L223.24 422.07 L223.69 422.35 L224.14 422.4 L224.59 422.24 L225.04 422.13 L225.49 422.57 L225.94 422.72 L226.39 422.76 L226.84 422.42 L227.29 422.4 L227.74 422.45 L228.19 422.32 L228.64 422.65 L229.09 422.4 L229.54 422.41 L229.99 422.38 L230.44 422.46 L230.89 422.65 L231.34 422.55 L231.79 422.4 L232.24 422.74 L232.69 422.44 L233.14 422.45 L233.59 422.47 L234.04 422.81 L234.49 422.83 L234.94 422.67 L235.39 422.22 L235.84 422.93 L236.29 422.96 L236.74 422.93 L237.19 422.83 L237.64 422.72 L238.09 423.13 L238.54 423 L238.99 423 L239.44 422.64 L239.89 422.84 L240.34 422.53 L240.79 422.71 L241.24 422.5 L241.69 422.64 L242.14 422.49 L242.59 422.85 L243.04 422.57 L243.49 423 L243.94 422.66 L244.39 422.97 L244.84 422.86 L245.29 422.72 L245.74 422.71 L246.19 422.87 L246.64 422.74 L247.09 422.72 L247.54 422.62 L247.99 422.93 L248.44 423.23 L248.89 422.77 L249.33 423.12 L249.78 422.9 L250.23 422.72 L250.68 422.96 L251.13 422.81 L251.58 423.19 L252.03 422.92 L252.48 423.27 L252.93 423.27 L253.38 423.27 L253.83 423.17 L254.28 423.15 L254.73 422.84 L255.18 423.28 L255.63 422.94 L256.08 422.81 L256.53 422.87 L256.98 422.79 L257.43 423.06 L257.88 423.19 L258.33 422.94 L258.78 423.04 L259.23 423.1 L259.68 422.68 L260.13 422.77 L260.58 422.87 L261.03 422.86 L261.48 423 L261.93 422.93 L262.38 422.62 L262.83 423 L263.28 422.62 L263.73 422.65 L264.18 422.87 L264.63 422.44 L265.08 422.46 L265.53 422.57 L265.98 422.71 L266.43 422.64 L266.88 422.46 L267.33 422.62 L267.78 422.86 L268.23 422.88 L268.68 422.63 L269.13 422.55 L269.58 422.76 L270.03 422.92 L270.48 422.31 L270.93 422.56 L271.38 422.74 L271.83 422.77 L272.28 422.78 L272.73 422.88 L273.18 422.91 L273.63 422.8 L274.08 422.6 L274.53 422.69 L274.98 422.51 L275.43 422.71 L275.88 422.73 L276.33 422.71 L276.78 422.82 L277.23 422.52 L277.68 422.86 L278.13 422.77 L278.58 422.75 L279.03 422.6 L279.48 423 L279.93 423.16 L280.38 422.83 L280.83 422.99 L281.28 422.81 L281.72 422.48 L282.17 422.9 L282.62 423.07 L283.07 422.83 L283.52 422.87 L283.96 423.08 L284.41 423.27 L284.86 423.27 L285.3 423.38 L285.75 423.39 L286.19 423.25 L286.63 423.49 L287.07 423.37 L287.51 423.65 L287.95 423.72 L288.39 423.76 L288.82 423.82 L289.26 424.04 L289.69 424.22 L290.12 424.53 L290.55 424.55 L290.98 424.53 L291.41 424.82 L291.83 424.84 L292.26 424.95 L292.69 425.24 L293.11 425.48 L293.54 425.8 L293.96 425.6 L294.38 425.84 L294.81 426.16 L295.23 426.33 L295.65 426.58 L296.07 426.59 L296.5 426.85 L296.92 426.69 L297.35 426.71 L297.79 427.01 L298.22 427.22 L298.65 427.15 L299.05 427.17 L299.43 427.41 L299.76 427.73 L300.03 428.45 L300.27 429.09 L300.45 429.05 L300.59 429.52 L300.74 429.98 L300.9 430.36 L301.1 430.98 L301.34 431.19 L301.6 431.36 L301.87 431.92 L302.15 432.22 L302.43 432.68 L302.7 432.79 L302.8 432.95" fill="none" stroke="#437DC4" stroke-width="2.5" stroke-linejoin="round" stroke-linecap="butt"/>
<line x1="69.5" y1="256.4" x2="304.6" y2="256.4" stroke="#1e1e1e" stroke-width="1.45" />
<line x1="69.5" y1="255.8" x2="69.5" y2="446.4" stroke="#1e1e1e" stroke-width="1.45" />
<line x1="68.9" y1="445.8" x2="305.2" y2="445.8" stroke="#1e1e1e" stroke-width="1.45" />
<line x1="304.6" y1="255.8" x2="304.6" y2="446.4" stroke="#1e1e1e" stroke-width="1.45" />
<line x1="65.9" y1="432.54" x2="69.5" y2="432.54" stroke="#000" stroke-width="1.25" />
<line x1="65.9" y1="388.51" x2="69.5" y2="388.51" stroke="#000" stroke-width="1.25" />
<line x1="65.9" y1="344.47" x2="69.5" y2="344.47" stroke="#000" stroke-width="1.25" />
<line x1="65.9" y1="300.44" x2="69.5" y2="300.44" stroke="#000" stroke-width="1.25" />
<line x1="65.9" y1="256.4" x2="69.5" y2="256.4" stroke="#000" stroke-width="1.25" />
<line x1="67.5" y1="445.8" x2="69.5" y2="445.8" stroke="#000" stroke-width="1.25" />
<line x1="67.5" y1="442.31" x2="69.5" y2="442.31" stroke="#000" stroke-width="1.25" />
<line x1="67.5" y1="439.37" x2="69.5" y2="439.37" stroke="#000" stroke-width="1.25" />
<line x1="67.5" y1="436.81" x2="69.5" y2="436.81" stroke="#000" stroke-width="1.25" />
<line x1="67.5" y1="434.56" x2="69.5" y2="434.56" stroke="#000" stroke-width="1.25" />
<line x1="67.5" y1="419.29" x2="69.5" y2="419.29" stroke="#000" stroke-width="1.25" />
<line x1="67.5" y1="411.53" x2="69.5" y2="411.53" stroke="#000" stroke-width="1.25" />
<line x1="67.5" y1="406.03" x2="69.5" y2="406.03" stroke="#000" stroke-width="1.25" />
<line x1="67.5" y1="401.76" x2="69.5" y2="401.76" stroke="#000" stroke-width="1.25" />
<line x1="67.5" y1="398.28" x2="69.5" y2="398.28" stroke="#000" stroke-width="1.25" />
<line x1="67.5" y1="395.33" x2="69.5" y2="395.33" stroke="#000" stroke-width="1.25" />
<line x1="67.5" y1="392.78" x2="69.5" y2="392.78" stroke="#000" stroke-width="1.25" />
<line x1="67.5" y1="390.52" x2="69.5" y2="390.52" stroke="#000" stroke-width="1.25" />
<line x1="67.5" y1="375.25" x2="69.5" y2="375.25" stroke="#000" stroke-width="1.25" />
<line x1="67.5" y1="367.5" x2="69.5" y2="367.5" stroke="#000" stroke-width="1.25" />
<line x1="67.5" y1="362" x2="69.5" y2="362" stroke="#000" stroke-width="1.25" />
<line x1="67.5" y1="357.73" x2="69.5" y2="357.73" stroke="#000" stroke-width="1.25" />
<line x1="67.5" y1="354.24" x2="69.5" y2="354.24" stroke="#000" stroke-width="1.25" />
<line x1="67.5" y1="351.29" x2="69.5" y2="351.29" stroke="#000" stroke-width="1.25" />
<line x1="67.5" y1="348.74" x2="69.5" y2="348.74" stroke="#000" stroke-width="1.25" />
<line x1="67.5" y1="346.49" x2="69.5" y2="346.49" stroke="#000" stroke-width="1.25" />
<line x1="67.5" y1="331.22" x2="69.5" y2="331.22" stroke="#000" stroke-width="1.25" />
<line x1="67.5" y1="323.46" x2="69.5" y2="323.46" stroke="#000" stroke-width="1.25" />
<line x1="67.5" y1="317.96" x2="69.5" y2="317.96" stroke="#000" stroke-width="1.25" />
<line x1="67.5" y1="313.69" x2="69.5" y2="313.69" stroke="#000" stroke-width="1.25" />
<line x1="67.5" y1="310.21" x2="69.5" y2="310.21" stroke="#000" stroke-width="1.25" />
<line x1="67.5" y1="307.26" x2="69.5" y2="307.26" stroke="#000" stroke-width="1.25" />
<line x1="67.5" y1="304.7" x2="69.5" y2="304.7" stroke="#000" stroke-width="1.25" />
<line x1="67.5" y1="302.45" x2="69.5" y2="302.45" stroke="#000" stroke-width="1.25" />
<line x1="67.5" y1="287.18" x2="69.5" y2="287.18" stroke="#000" stroke-width="1.25" />
<line x1="67.5" y1="279.43" x2="69.5" y2="279.43" stroke="#000" stroke-width="1.25" />
<line x1="67.5" y1="273.92" x2="69.5" y2="273.92" stroke="#000" stroke-width="1.25" />
<line x1="67.5" y1="269.66" x2="69.5" y2="269.66" stroke="#000" stroke-width="1.25" />
<line x1="67.5" y1="266.17" x2="69.5" y2="266.17" stroke="#000" stroke-width="1.25" />
<line x1="67.5" y1="263.22" x2="69.5" y2="263.22" stroke="#000" stroke-width="1.25" />
<line x1="67.5" y1="260.67" x2="69.5" y2="260.67" stroke="#000" stroke-width="1.25" />
<line x1="67.5" y1="258.41" x2="69.5" y2="258.41" stroke="#000" stroke-width="1.25" />
<text x="63.3" y="437.14" font-size="12" text-anchor="end" stroke="#000" stroke-width="0.2">10<tspan font-size="8.5" dy="-5.5">-1</tspan></text>
<text x="63.3" y="393.11" font-size="12" text-anchor="end" stroke="#000" stroke-width="0.2">10<tspan font-size="8.5" dy="-5.5">0</tspan></text>
<text x="63.3" y="349.07" font-size="12" text-anchor="end" stroke="#000" stroke-width="0.2">10<tspan font-size="8.5" dy="-5.5">1</tspan></text>
<text x="63.3" y="305.04" font-size="12" text-anchor="end" stroke="#000" stroke-width="0.2">10<tspan font-size="8.5" dy="-5.5">2</tspan></text>
<text x="63.3" y="261" font-size="12" text-anchor="end" stroke="#000" stroke-width="0.2">10<tspan font-size="8.5" dy="-5.5">3</tspan></text>
<line x1="85.17" y1="445.8" x2="85.17" y2="449.4" stroke="#000" stroke-width="1.25" />
<line x1="116.52" y1="445.8" x2="116.52" y2="449.4" stroke="#000" stroke-width="1.25" />
<line x1="147.87" y1="445.8" x2="147.87" y2="449.4" stroke="#000" stroke-width="1.25" />
<line x1="179.21" y1="445.8" x2="179.21" y2="449.4" stroke="#000" stroke-width="1.25" />
<line x1="210.56" y1="445.8" x2="210.56" y2="449.4" stroke="#000" stroke-width="1.25" />
<line x1="241.91" y1="445.8" x2="241.91" y2="449.4" stroke="#000" stroke-width="1.25" />
<line x1="273.25" y1="445.8" x2="273.25" y2="449.4" stroke="#000" stroke-width="1.25" />
<line x1="304.6" y1="445.8" x2="304.6" y2="449.4" stroke="#000" stroke-width="1.25" />
<line x1="69.5" y1="445.8" x2="69.5" y2="447.8" stroke="#000" stroke-width="1.25" />
<line x1="100.85" y1="445.8" x2="100.85" y2="447.8" stroke="#000" stroke-width="1.25" />
<line x1="132.19" y1="445.8" x2="132.19" y2="447.8" stroke="#000" stroke-width="1.25" />
<line x1="163.54" y1="445.8" x2="163.54" y2="447.8" stroke="#000" stroke-width="1.25" />
<line x1="194.89" y1="445.8" x2="194.89" y2="447.8" stroke="#000" stroke-width="1.25" />
<line x1="226.23" y1="445.8" x2="226.23" y2="447.8" stroke="#000" stroke-width="1.25" />
<line x1="257.58" y1="445.8" x2="257.58" y2="447.8" stroke="#000" stroke-width="1.25" />
<line x1="288.93" y1="445.8" x2="288.93" y2="447.8" stroke="#000" stroke-width="1.25" />
<text x="85.17" y="461.8" font-size="12" text-anchor="middle" fill="#000"  stroke="#000" stroke-width="0.2">-40</text>
<text x="116.52" y="461.8" font-size="12" text-anchor="middle" fill="#000"  stroke="#000" stroke-width="0.2">-20</text>
<text x="147.87" y="461.8" font-size="12" text-anchor="middle" fill="#000"  stroke="#000" stroke-width="0.2">0</text>
<text x="179.21" y="461.8" font-size="12" text-anchor="middle" fill="#000"  stroke="#000" stroke-width="0.2">20</text>
<text x="210.56" y="461.8" font-size="12" text-anchor="middle" fill="#000"  stroke="#000" stroke-width="0.2">40</text>
<text x="241.91" y="461.8" font-size="12" text-anchor="middle" fill="#000"  stroke="#000" stroke-width="0.2">60</text>
<text x="273.25" y="461.8" font-size="12" text-anchor="middle" fill="#000"  stroke="#000" stroke-width="0.2">80</text>
<text x="304.6" y="461.8" font-size="12" text-anchor="middle" fill="#000"  stroke="#000" stroke-width="0.2">100</text>
<text x="134.5" y="478.9" font-size="12.5" text-anchor="start" fill="#000"  stroke="#000" stroke-width="0.2">Temperature (°C)</text>
<text transform="translate(34.2 350.7) rotate(-90)" font-size="12.5" text-anchor="middle" stroke="#000" stroke-width="0.2">Storage Modulus (MPa)</text>
<text x="0.5" y="264" font-size="20.3" text-anchor="start" fill="#000"  stroke="#000" stroke-width="0.2">c</text>
<line x1="229.1" y1="275.2" x2="255" y2="275.2" stroke="#CC625A" stroke-width="2.5" />
<line x1="229.1" y1="291" x2="255" y2="291" stroke="#437DC4" stroke-width="2.5" />
<text x="257.2" y="279.8" font-size="10.5">in N<tspan font-size="8" dy="2.4">2</tspan></text>
<text x="257.2" y="295.2" font-size="10.5">in CO<tspan font-size="8" dx="0.6" dy="2.4">2</tspan></text>
<line x1="410.2" y1="375.7" x2="644.2" y2="375.7" stroke="#FDB913" stroke-width="2.1" stroke-dasharray="7.6 5.8"/>
<path d="M411.6 271.6 L411.7 272.37 L411.8 273.14 L411.9 273.9 L412 274.66 L412.1 275.41 L412.2 276.15 L412.3 276.89 L412.4 277.63 L412.5 278.35 L412.6 279.07 L412.7 279.79 L412.8 280.5 L412.9 281.2 L413 281.9 L413.1 282.6 L413.2 283.29 L413.3 283.97 L413.4 284.65 L413.5 285.32 L413.6 285.99 L413.7 286.65 L413.8 287.31 L413.9 287.96 L414 288.6 L414.1 289.24 L414.2 289.87 L414.3 290.51 L414.4 291.13 L414.5 291.76 L414.6 292.37 L414.7 292.98 L414.8 293.58 L414.9 294.18 L415 294.76 L415.1 295.34 L415.2 295.9 L415.3 296.45 L415.4 296.99 L415.5 297.52 L415.6 298.04 L415.7 298.56 L415.8 299.07 L415.9 299.57 L416 300.07 L416.1 300.57 L416.2 301.07 L416.3 301.57 L416.4 302.08 L416.5 302.59 L416.6 303.1 L416.7 303.62 L416.8 304.15 L416.9 304.69 L417 305.23 L417.1 305.78 L417.2 306.32 L417.3 306.86 L417.4 307.4 L417.5 307.93 L417.6 308.45 L417.7 308.96 L417.8 309.45 L417.9 309.94 L418 310.4 L418.1 310.85 L418.2 311.3 L418.3 311.74 L418.4 312.18 L418.5 312.61 L418.6 313.04 L418.7 313.46 L418.8 313.87 L418.9 314.28 L419 314.68 L419.1 315.07 L419.2 315.45 L419.3 315.83 L419.4 316.2 L419.5 316.56 L419.6 316.92 L419.7 317.26 L419.8 317.6 L419.9 317.93 L420 318.26 L420.4 319.51 L420.8 320.69 L421.2 321.81 L421.6 322.87 L422 323.88 L422.4 324.84 L422.8 325.75 L423.2 326.63 L423.6 327.46 L424 328.27 L424.4 329.05 L424.8 329.81 L425.2 330.55 L425.6 331.28 L426 331.99 L426.4 332.69 L426.8 333.38 L427.2 334.04 L427.6 334.69 L428 335.32 L428.4 335.93 L428.8 336.52 L429.2 337.08 L429.6 337.62 L430 338.14 L430.4 338.65 L430.8 339.14 L431.2 339.62 L431.6 340.1 L432 340.57 L432.4 341.03 L432.8 341.5 L433.2 341.96 L433.6 342.42 L434 342.86 L434.4 343.3 L434.8 343.74 L435.2 344.18 L435.6 344.61 L436 345.05 L436.4 345.5 L436.8 345.96 L437.2 346.43 L437.6 346.91 L438 347.4 L438.4 347.87 L438.8 348.34 L439.2 348.78 L439.6 349.2 L440 349.59 L441.5 350.9 L443 352.05 L444.5 353.11 L446 354.11 L447.5 355.07 L449 355.97 L450.5 356.82 L452 357.62 L453.5 358.37 L455 359.09 L456.5 359.77 L458 360.42 L459.5 361.04 L461 361.64 L462.5 362.2 L464 362.75 L465.5 363.27 L467 363.78 L468.5 364.27 L470 364.74 L471.5 365.2 L473 365.65 L474.5 366.08 L476 366.49 L477.5 366.9 L479 367.29 L480.5 367.67 L482 368.04 L483.5 368.4 L485 368.76 L486.5 369.1 L488 369.44 L489.5 369.78 L491 370.1 L492.5 370.42 L494 370.73 L495.5 371.03 L497 371.33 L498.5 371.63 L500 371.91 L501.5 372.19 L503 372.47 L504.5 372.74 L506 373 L507.5 373.26 L509 373.51 L510.5 373.76 L512 374.01 L513.5 374.25 L515 374.48 L516.5 374.71 L518 374.94 L519.5 375.17 L521 375.39 L522.5 375.61 L524 375.82 L525.5 376.03 L527 376.23 L528.5 376.44 L530 376.63 L531.5 376.83 L533 377.02 L534.5 377.21 L536 377.39 L537.5 377.57 L539 377.75 L540.5 377.93 L542 378.1 L543.5 378.27 L545 378.44 L546.5 378.6 L548 378.76 L549.5 378.92 L551 379.07 L552.5 379.22 L554 379.37 L555.5 379.51 L557 379.66 L558.5 379.8 L560 379.94 L561.5 380.08 L563 380.22 L564.5 380.35 L566 380.48 L567.5 380.61 L569 380.74 L570.5 380.86 L572 380.98 L573.5 381.1 L575 381.22 L576.5 381.34 L578 381.45 L579.5 381.56 L581 381.67 L582.5 381.78 L584 381.88 L585.5 381.99 L587 382.09 L588.5 382.19 L590 382.29 L591.5 382.39 L593 382.49 L594.5 382.58 L596 382.67 L597.5 382.76 L599 382.85 L600.5 382.94 L602 383.03 L603.5 383.11 L605 383.19 L606.5 383.28 L608 383.36 L609.5 383.44 L611 383.51 L612.5 383.59 L614 383.67 L615.5 383.74 L617 383.81 L618.5 383.88 L620 383.96 L621.5 384.02 L623 384.09 L624.5 384.16 L626 384.23 L627.5 384.29 L629 384.36 L630.5 384.42 L632 384.48 L633.5 384.54 L635 384.6 L636.5 384.66 L638 384.71 L639.5 384.77 L641 384.83 L642.5 384.88 L643.5 384.91" fill="none" stroke="#CC625A" stroke-width="2.5" stroke-linejoin="round" stroke-linecap="butt"/>
<path d="M411.9 271.3 L412 271.74 L412.1 272.18 L412.19 272.62 L412.27 273.06 L412.34 273.51 L412.38 273.95 L412.4 274.4 L412.4 274.85 L412.4 275.3 L412.4 275.75 L412.41 276.2 L412.42 276.65 L412.43 277.1 L412.44 277.55 L412.45 278 L412.46 278.45 L412.47 278.9 L412.49 279.35 L412.5 279.8 L412.51 280.25 L412.52 280.7 L412.53 281.15 L412.54 281.6 L412.55 282.05 L412.56 282.5 L412.57 282.95 L412.59 283.4 L412.6 283.85 L412.61 284.3 L412.62 284.75 L412.63 285.2 L412.64 285.65 L412.66 286.1 L412.67 286.55 L412.68 287 L412.69 287.45 L412.7 287.9 L412.71 288.35 L412.73 288.8 L412.74 289.25 L412.75 289.7 L412.76 290.15 L412.78 290.6 L412.79 291.05 L412.8 291.5 L412.81 291.95 L412.83 292.4 L412.84 292.85 L412.85 293.3 L412.86 293.75 L412.88 294.2 L412.89 294.65 L412.9 295.1 L412.92 295.55 L412.93 296 L412.94 296.45 L412.96 296.9 L412.97 297.35 L412.98 297.8 L413 298.25 L413.01 298.69 L413.02 299.14 L413.04 299.59 L413.05 300.04 L413.07 300.49 L413.08 300.94 L413.09 301.39 L413.11 301.84 L413.12 302.29 L413.14 302.74 L413.15 303.19 L413.17 303.64 L413.18 304.09 L413.2 304.54 L413.21 304.99 L413.23 305.44 L413.24 305.89 L413.26 306.34 L413.27 306.79 L413.29 307.24 L413.3 307.69 L413.32 308.14 L413.33 308.59 L413.35 309.04 L413.37 309.49 L413.38 309.94 L413.4 310.39 L413.41 310.84 L413.43 311.29 L413.45 311.74 L413.46 312.19 L413.48 312.64 L413.5 313.09 L413.51 313.54 L413.53 313.99 L413.55 314.44 L413.57 314.89 L413.58 315.34 L413.6 315.78 L413.62 316.23 L413.64 316.68 L413.65 317.13 L413.67 317.58 L413.69 318.03 L413.71 318.48 L413.73 318.93 L413.75 319.38 L413.77 319.83 L413.78 320.28 L413.8 320.73 L413.82 321.18 L413.84 321.63 L413.86 322.08 L413.88 322.53 L413.9 322.98 L413.92 323.43 L413.94 323.88 L413.96 324.33 L413.98 324.78 L414 325.23 L414.03 325.68 L414.05 326.13 L414.07 326.57 L414.09 327.02 L414.11 327.47 L414.13 327.92 L414.16 328.37 L414.18 328.82 L414.2 329.27 L414.22 329.72 L414.25 330.17 L414.27 330.62 L414.29 331.07 L414.32 331.52 L414.34 331.97 L414.37 332.42 L414.39 332.87 L414.41 333.32 L414.44 333.76 L414.46 334.21 L414.49 334.66 L414.52 335.11 L414.54 335.56 L414.57 336.01 L414.59 336.46 L414.62 336.91 L414.65 337.36 L414.68 337.81 L414.7 338.26 L414.73 338.71 L414.76 339.16 L414.79 339.6 L414.82 340.05 L414.85 340.5 L414.88 340.95 L414.91 341.4 L414.94 341.85 L414.97 342.3 L415 342.75 L415.03 343.2 L415.06 343.65 L415.1 344.09 L415.13 344.54 L415.16 344.99 L415.2 345.44 L415.23 345.89 L415.27 346.34 L415.3 346.79 L415.34 347.23 L415.37 347.68 L415.41 348.13 L415.45 348.58 L415.48 349.03 L415.52 349.48 L415.56 349.93 L415.6 350.37 L415.64 350.82 L415.68 351.27 L415.72 351.72 L415.76 352.17 L415.81 352.61 L415.85 353.06 L415.89 353.51 L415.94 353.96 L415.98 354.41 L416.03 354.85 L416.07 355.3 L416.12 355.75 L416.17 356.2 L416.22 356.64 L416.27 357.09 L416.32 357.54 L416.37 357.98 L416.43 358.43 L416.48 358.88 L416.53 359.32 L416.59 359.77 L416.65 360.22 L416.71 360.66 L416.77 361.11 L416.83 361.56 L416.89 362 L416.95 362.45 L417.02 362.89 L417.08 363.34 L417.15 363.78 L417.22 364.23 L417.29 364.67 L417.36 365.12 L417.43 365.56 L417.51 366 L417.59 366.45 L417.66 366.89 L417.75 367.33 L417.83 367.77 L417.91 368.22 L418 368.66 L418.09 369.1 L418.18 369.54 L418.27 369.98 L418.37 370.42 L418.47 370.86 L418.57 371.3 L418.67 371.73 L418.78 372.17 L418.89 372.61 L419 373.04 L419.12 373.48 L419.24 373.91 L419.36 374.35 L419.49 374.78 L419.62 375.21 L419.75 375.64 L419.89 376.07 L420.03 376.49 L420.17 376.92 L420.32 377.35 L420.47 377.77 L420.63 378.19 L420.79 378.61 L420.96 379.03 L421.13 379.45 L421.3 379.86 L421.48 380.27 L421.66 380.68 L421.85 381.09 L422.05 381.5 L422.24 381.9 L422.44 382.31 L422.65 382.71 L422.86 383.1 L423.08 383.46 L423.3 383.97 L423.52 384.54 L423.75 383.95 L423.99 383.66 L424.23 385.47 L424.47 385.5 L424.72 385.71 L424.97 386.6 L425.23 386.58 L425.49 386.69 L425.76 386.91 L426.03 387.55 L426.3 387.78 L426.58 388.35 L426.86 389.21 L427.15 388.85 L427.44 389.29 L427.73 389.34 L428.03 390.51 L428.33 390.99 L428.64 390.84 L428.95 391.73 L429.26 391.57 L429.58 392.33 L429.9 391.99 L430.22 392.85 L430.55 393.08 L430.88 393.63 L431.22 393.5 L431.56 393.46 L431.9 394.56 L432.24 393.97 L432.59 394.77 L432.94 394.62 L433.29 395.62 L433.65 395.03 L434.01 395.97 L434.37 395.89 L434.74 396.09 L435.11 396.12 L435.49 397.1 L435.86 396.71 L436.24 397.58 L436.62 397.52 L437 397.87 L437.38 398.22 L437.77 398.58 L438.16 398.86 L438.55 398.58 L438.95 399.73 L439.34 399.61 L439.74 399.24 L440.14 399.53 L440.54 399.56 L440.94 399.59 L441.35 400.46 L441.75 400.32 L442.16 400.05 L442.57 401.33 L442.98 400.79 L443.4 401.45 L443.81 401.9 L444.23 402.4 L444.64 401.62 L445.06 401.82 L445.48 402.45 L445.9 402.94 L446.33 402.79 L446.75 402.58 L447.17 402.67 L447.59 402.89 L448.02 402.59 L448.45 402.1 L448.87 402.98 L449.3 403.75 L449.73 403.09 L450.16 403.11 L450.59 403.97 L451.02 403.52 L451.45 403.99 L451.88 403.33 L452.31 403.91 L452.75 404.32 L453.18 403.85 L453.61 404.3 L454.05 404.37 L454.48 404.75 L454.92 404.69 L455.36 405.53 L455.79 405.22 L456.23 405.84 L456.67 405.91 L457.1 405.89 L457.54 405.58 L457.98 405.59 L458.42 405.66 L458.86 405.64 L459.3 405.95 L459.74 406.73 L460.18 406.57 L460.62 406.24 L461.06 406.69 L461.5 407.01 L461.94 406.94 L462.38 407.31 L462.82 406.47 L463.26 407.06 L463.7 406.65 L464.14 407.38 L464.59 407.04 L465.03 406.87 L465.47 407.04 L465.91 406.78 L466.36 407.12 L466.8 407.17 L467.24 407.84 L467.68 407.68 L468.13 408.44 L468.57 407.68 L469.02 408.59 L469.46 408.03 L469.9 408.64 L470.35 408.49 L470.79 409.84 L471.24 409.05 L471.68 409.08 L472.12 409.18 L472.57 408.42 L473.01 408.67 L473.46 409.25 L473.9 408.56 L474.35 408.3 L474.79 409.16 L475.24 408.59 L475.68 409.33 L476.13 408.78 L476.58 408.5 L477.02 409.26 L477.47 408.65 L477.91 409.36 L478.36 408.91 L478.8 410.02 L479.25 409.11 L479.69 409.9 L480.14 409.82 L480.59 410.34 L481.03 410.34 L481.48 409.53 L481.93 409.6 L482.37 409.66 L482.82 410.39 L483.26 410.32 L483.71 409.81 L484.16 410.13 L484.6 410.29 L485.05 410.86 L485.5 410.81 L485.94 410.2 L486.39 410.46 L486.84 410.14 L487.28 410.69 L487.73 411.13 L488.18 410.27 L488.63 410.58 L489.07 411.45 L489.52 411.07 L489.97 411.34 L490.41 411.6 L490.86 410.69 L491.31 410.93 L491.76 411.29 L492.2 411.39 L492.65 410.51 L493.1 411.35 L493.54 411.01 L493.99 411.4 L494.44 411.24 L494.89 411.39 L495.34 410.96 L495.78 411.3 L496.23 411.19 L496.68 411.54 L497.13 411.48 L497.57 411.84 L498.02 411.64 L498.47 411.7 L498.92 412.18 L499.36 411.82 L499.81 411.81 L500.26 411.18 L500.71 411.38 L501.16 411.33 L501.6 412.33 L502.05 412.14 L502.5 412.33 L502.95 412.2 L503.4 411.89 L503.84 412.27 L504.29 412.52 L504.74 411.88 L505.19 412.53 L505.64 412.5 L506.08 412.14 L506.53 412.64 L506.98 412.84 L507.43 413.13 L507.88 413.24 L508.33 413.39 L508.77 412.59 L509.22 412.95 L509.67 413.43 L510.12 413.4 L510.57 412.83 L511.02 413.4 L511.46 413.62 L511.91 412.75 L512.36 412.7 L512.81 412.93 L513.26 412.92 L513.71 413.28 L514.16 413.19 L514.6 412.37 L515.05 412.96 L515.5 412.86 L515.95 413.66 L516.4 413.4 L516.85 413.82 L517.3 413.59 L517.75 413.66 L518.19 413.91 L518.64 414.13 L519.09 414.32 L519.54 414.25 L519.99 414 L520.44 413.76 L520.89 413.5 L521.34 413.7 L521.78 413.74 L522.23 414.47 L522.68 414.38 L523.13 414.33 L523.58 414.6 L524.03 413.65 L524.48 412.46 L524.93 412.67 L525.38 413.93 L525.82 414.73 L526.27 413.93 L526.72 414.29 L527.17 414.38 L527.62 413.73 L528.07 414.19 L528.52 414.2 L528.97 414.66 L529.42 414.34 L529.87 414.03 L530.31 414.2 L530.76 414.86 L531.21 414.68 L531.66 414.7 L532.11 415.42 L532.56 415.08 L533.01 415.23 L533.46 415.07 L533.91 414.62 L534.36 415.2 L534.81 415.02 L535.26 414.66 L535.7 414.96 L536.15 415.07 L536.6 415.11 L537.05 414.62 L537.5 415.69 L537.95 414.24 L538.4 414.91 L538.85 415.01 L539.3 414.35 L539.75 414.14 L540.2 414.59 L540.65 414.8 L541.1 414.56 L541.54 414.1 L541.99 414.77 L542.44 414.66 L542.89 414.64 L543.34 414.48 L543.79 414.49 L544.24 414.41 L544.69 414.5 L545.14 415.3 L545.59 414.75 L546.04 415.35 L546.49 414.9 L546.94 414.88 L547.39 413.76 L547.84 415.18 L548.28 415.6 L548.73 415.22 L549.18 415.7 L549.63 415.83 L550.08 415.38 L550.53 416.19 L550.98 416 L551.43 415.1 L551.88 415.03 L552.33 415.56 L552.78 416.03 L553.23 415.8 L553.68 415.22 L554.13 415.51 L554.58 416.01 L555.03 415.43 L555.48 415.81 L555.93 416.23 L556.38 415.43 L556.82 415.39 L557.27 415.19 L557.72 415.82 L558.17 415.37 L558.62 415.85 L559.07 415.8 L559.52 415.88 L559.97 415.74 L560.42 415.51 L560.87 416.1 L561.32 415.23 L561.77 415.57 L562.22 415.94 L562.67 415.51 L563.12 416.22 L563.57 416.02 L564.02 415.52 L564.47 415.85 L564.92 415.6 L565.37 416.45 L565.82 416.59 L566.27 416.28 L566.72 415.59 L567.17 416.09 L567.62 415.79 L568.06 416.34 L568.51 415.77 L568.96 416.08 L569.41 416.71 L569.86 416.57 L570.31 416.87 L570.76 416.44 L571.21 416.19 L571.66 416.27 L572.11 416.92 L572.56 416.4 L573.01 415.99 L573.46 416.63 L573.91 416.63 L574.36 416.42 L574.81 416.65 L575.26 417.04 L575.71 416.3 L576.16 416.74 L576.61 416.31 L577.06 417.29 L577.51 416.43 L577.96 417.11 L578.41 416.62 L578.86 417.42 L579.31 416.94 L579.76 417.35 L580.21 417.31 L580.66 416.63 L581.11 416.8 L581.56 417.28 L582.01 416.72 L582.46 417.54 L582.91 416.61 L583.36 416.86 L583.8 417.11 L584.25 416.88 L584.7 417.32 L585.15 417.4 L585.6 417.33 L586.05 417.37 L586.5 417.16 L586.95 417.47 L587.4 416.38 L587.85 417 L588.3 417.33 L588.75 416.86 L589.2 416.8 L589.65 416.51 L590.1 417.42 L590.55 417.1 L591 417.28 L591.45 417.3 L591.9 416.71 L592.35 417.37 L592.8 416.52 L593.25 417.54 L593.7 417.4 L594.15 416.72 L594.6 417.63 L595.05 417.45 L595.5 417.58 L595.95 417.14 L596.4 417.35 L596.85 417.69 L597.3 416.93 L597.75 417.57 L598.2 417.93 L598.65 417.43 L599.1 416.89 L599.55 417.84 L600 416.92 L600.45 417.04 L600.9 417.28 L601.35 416.77 L601.8 416.69 L602.25 417.01 L602.7 417.12 L603.15 416.82 L603.6 417.24 L604.05 417.14 L604.5 417.35 L604.95 417.2 L605.4 417.55 L605.85 417.45 L606.3 417.31 L606.75 417.42 L607.2 417.46 L607.65 417.49 L608.1 417.57 L608.55 417.39 L609 417.75 L609.45 417.27 L609.9 417.11 L610.35 418.08 L610.79 418.05 L611.24 417.34 L611.69 417.62 L612.14 417.94 L612.59 417.24 L613.04 418.22 L613.49 417.99 L613.94 418.3 L614.39 417.67 L614.84 417.32 L615.29 417.85 L615.74 418.12 L616.19 418.3 L616.64 418.84 L617.09 418.42 L617.54 417.46 L617.99 418.42 L618.44 417.86 L618.89 418.47 L619.34 417.97 L619.79 418.41 L620.24 418.11 L620.69 418.33 L621.14 417.99 L621.59 417.5 L622.04 417.48 L622.49 419.13 L622.94 417.07 L623.39 417.11 L623.84 417.28 L624.29 417.63 L624.74 417.26 L625.19 418.06 L625.64 417.13 L626.09 417.78 L626.54 417.13 L626.99 417.97 L627.44 418.02 L627.89 417.75 L628.34 417.36 L628.79 417.99 L629.24 417.42 L629.69 418.22 L630.14 418.01 L630.59 417.26 L631.04 417.98 L631.49 417.09 L631.94 417.18 L632.39 417.14 L632.84 417.5 L633.29 417.65 L633.74 417.25 L634.19 418.06 L634.64 417.45 L635.09 417.23 L635.54 418.23 L635.99 417.48 L636.44 417.92 L636.89 417.82 L637.34 417.61 L637.79 418.27 L638.24 418.15 L638.69 418.06 L639.14 418.39 L639.59 418.25 L640.04 418.14 L640.49 418.01 L640.94 418 L641.39 418.38 L641.84 417.94 L642.29 418.7 L642.74 418.21 L643.19 417.8 L643.64 418.57 L644.06 417.88 L644 418.37" fill="none" stroke="#437DC4" stroke-width="2.5" stroke-linejoin="round" stroke-linecap="butt"/>
<line x1="409" y1="256.3" x2="644.2" y2="256.3" stroke="#1e1e1e" stroke-width="1.45" />
<line x1="409" y1="255.7" x2="409" y2="446.1" stroke="#1e1e1e" stroke-width="1.45" />
<line x1="408.4" y1="445.5" x2="644.8" y2="445.5" stroke="#1e1e1e" stroke-width="1.45" />
<line x1="644.2" y1="255.7" x2="644.2" y2="446.1" stroke="#1e1e1e" stroke-width="1.45" />
<line x1="405.4" y1="429.9" x2="409" y2="429.9" stroke="#000" stroke-width="1.25" />
<line x1="405.4" y1="398.3" x2="409" y2="398.3" stroke="#000" stroke-width="1.25" />
<line x1="405.4" y1="366.7" x2="409" y2="366.7" stroke="#000" stroke-width="1.25" />
<line x1="405.4" y1="335.1" x2="409" y2="335.1" stroke="#000" stroke-width="1.25" />
<line x1="405.4" y1="303.5" x2="409" y2="303.5" stroke="#000" stroke-width="1.25" />
<line x1="405.4" y1="271.9" x2="409" y2="271.9" stroke="#000" stroke-width="1.25" />
<line x1="407" y1="445.7" x2="409" y2="445.7" stroke="#000" stroke-width="1.25" />
<line x1="407" y1="414.1" x2="409" y2="414.1" stroke="#000" stroke-width="1.25" />
<line x1="407" y1="382.5" x2="409" y2="382.5" stroke="#000" stroke-width="1.25" />
<line x1="407" y1="350.9" x2="409" y2="350.9" stroke="#000" stroke-width="1.25" />
<line x1="407" y1="319.3" x2="409" y2="319.3" stroke="#000" stroke-width="1.25" />
<line x1="407" y1="287.7" x2="409" y2="287.7" stroke="#000" stroke-width="1.25" />
<line x1="407" y1="256.1" x2="409" y2="256.1" stroke="#000" stroke-width="1.25" />
<text x="402.7" y="434.3" font-size="12" text-anchor="end" fill="#000"  stroke="#000" stroke-width="0.2">0.0</text>
<text x="402.7" y="402.7" font-size="12" text-anchor="end" fill="#000"  stroke="#000" stroke-width="0.2">0.2</text>
<text x="402.7" y="371.1" font-size="12" text-anchor="end" fill="#000"  stroke="#000" stroke-width="0.2">0.4</text>
<text x="402.7" y="339.5" font-size="12" text-anchor="end" fill="#000"  stroke="#000" stroke-width="0.2">0.6</text>
<text x="402.7" y="307.9" font-size="12" text-anchor="end" fill="#000"  stroke="#000" stroke-width="0.2">0.8</text>
<text x="402.7" y="276.3" font-size="12" text-anchor="end" fill="#000"  stroke="#000" stroke-width="0.2">1.0</text>
<line x1="411" y1="445.5" x2="411" y2="449.1" stroke="#000" stroke-width="1.25" />
<line x1="457.64" y1="445.5" x2="457.64" y2="449.1" stroke="#000" stroke-width="1.25" />
<line x1="504.28" y1="445.5" x2="504.28" y2="449.1" stroke="#000" stroke-width="1.25" />
<line x1="550.92" y1="445.5" x2="550.92" y2="449.1" stroke="#000" stroke-width="1.25" />
<line x1="597.56" y1="445.5" x2="597.56" y2="449.1" stroke="#000" stroke-width="1.25" />
<line x1="644.2" y1="445.5" x2="644.2" y2="449.1" stroke="#000" stroke-width="1.25" />
<line x1="434.32" y1="445.5" x2="434.32" y2="447.5" stroke="#000" stroke-width="1.25" />
<line x1="480.96" y1="445.5" x2="480.96" y2="447.5" stroke="#000" stroke-width="1.25" />
<line x1="527.6" y1="445.5" x2="527.6" y2="447.5" stroke="#000" stroke-width="1.25" />
<line x1="574.24" y1="445.5" x2="574.24" y2="447.5" stroke="#000" stroke-width="1.25" />
<line x1="620.88" y1="445.5" x2="620.88" y2="447.5" stroke="#000" stroke-width="1.25" />
<text x="411" y="461.7" font-size="12" text-anchor="middle" fill="#000"  stroke="#000" stroke-width="0.2">0</text>
<text x="457.64" y="461.7" font-size="12" text-anchor="middle" fill="#000"  stroke="#000" stroke-width="0.2">2</text>
<text x="504.28" y="461.7" font-size="12" text-anchor="middle" fill="#000"  stroke="#000" stroke-width="0.2">4</text>
<text x="550.92" y="461.7" font-size="12" text-anchor="middle" fill="#000"  stroke="#000" stroke-width="0.2">6</text>
<text x="597.56" y="461.7" font-size="12" text-anchor="middle" fill="#000"  stroke="#000" stroke-width="0.2">8</text>
<text x="644.2" y="461.7" font-size="12" text-anchor="middle" fill="#000"  stroke="#000" stroke-width="0.2">10</text>
<text x="506" y="478.9" font-size="12.5" text-anchor="start" fill="#000"  stroke="#000" stroke-width="0.2">Time (s)</text>
<text transform="translate(374 346) rotate(-90)" font-size="12.4" text-anchor="middle" stroke="#000" stroke-width="0.2">Normalized Stress</text>
<text x="342.2" y="271.6" font-size="20" text-anchor="start" fill="#000"  stroke="#000" stroke-width="0.2">d</text>
<text x="464.4" y="392.0" font-size="13.2" fill="#FDB913">1/<tspan font-style="italic">e</tspan></text>
<line x1="438.9" y1="275.4" x2="464.8" y2="275.4" stroke="#CC625A" stroke-width="2.5" />
<line x1="438.9" y1="291.1" x2="464.8" y2="291.1" stroke="#437DC4" stroke-width="2.5" />
<text x="466.8" y="279.7" font-size="10.5">in N<tspan font-size="8" dy="2.4">2</tspan></text>
<text x="466.8" y="295.0" font-size="10.5">in CO<tspan font-size="8" dx="0.5" dy="2.4">2</tspan></text>
<rect x="531.3" y="256.3" width="112.9" height="90.6" fill="#fff" stroke="#000" stroke-width="1"/>
<line x1="531.3" y1="256.3" x2="531.3" y2="347.4" stroke="#000" stroke-width="1.1" />
<line x1="530.8" y1="346.9" x2="644.2" y2="346.9" stroke="#000" stroke-width="1.2" />
<line x1="529.3" y1="336.2" x2="531.3" y2="336.2" stroke="#000" stroke-width="0.9" />
<line x1="529.3" y1="318.75" x2="531.3" y2="318.75" stroke="#000" stroke-width="0.9" />
<line x1="529.3" y1="301.3" x2="531.3" y2="301.3" stroke="#000" stroke-width="0.9" />
<line x1="529.3" y1="283.85" x2="531.3" y2="283.85" stroke="#000" stroke-width="0.9" />
<line x1="529.3" y1="266.4" x2="531.3" y2="266.4" stroke="#000" stroke-width="0.9" />
<line x1="530.1" y1="344.93" x2="531.3" y2="344.93" stroke="#000" stroke-width="0.9" />
<line x1="530.1" y1="327.47" x2="531.3" y2="327.47" stroke="#000" stroke-width="0.9" />
<line x1="530.1" y1="310.02" x2="531.3" y2="310.02" stroke="#000" stroke-width="0.9" />
<line x1="530.1" y1="292.57" x2="531.3" y2="292.57" stroke="#000" stroke-width="0.9" />
<line x1="530.1" y1="275.12" x2="531.3" y2="275.12" stroke="#000" stroke-width="0.9" />
<line x1="530.1" y1="257.68" x2="531.3" y2="257.68" stroke="#000" stroke-width="0.9" />
<text x="529.4" y="339" font-size="8.8" text-anchor="end" fill="#000" >0</text>
<text x="529.4" y="321.55" font-size="8.8" text-anchor="end" fill="#000" >1</text>
<text x="529.4" y="304.1" font-size="8.8" text-anchor="end" fill="#000" >2</text>
<text x="529.4" y="286.65" font-size="8.8" text-anchor="end" fill="#000" >3</text>
<text x="529.4" y="269.2" font-size="8.8" text-anchor="end" fill="#000" >4</text>
<line x1="549.1" y1="346.9" x2="549.1" y2="348.9" stroke="#000" stroke-width="0.9" />
<line x1="568.6" y1="346.9" x2="568.6" y2="348.9" stroke="#000" stroke-width="0.9" />
<line x1="588.1" y1="346.9" x2="588.1" y2="348.9" stroke="#000" stroke-width="0.9" />
<line x1="607.6" y1="346.9" x2="607.6" y2="348.9" stroke="#000" stroke-width="0.9" />
<line x1="627.1" y1="346.9" x2="627.1" y2="348.9" stroke="#000" stroke-width="0.9" />
<line x1="539.35" y1="346.9" x2="539.35" y2="348.1" stroke="#000" stroke-width="0.9" />
<line x1="558.85" y1="346.9" x2="558.85" y2="348.1" stroke="#000" stroke-width="0.9" />
<line x1="578.35" y1="346.9" x2="578.35" y2="348.1" stroke="#000" stroke-width="0.9" />
<line x1="597.85" y1="346.9" x2="597.85" y2="348.1" stroke="#000" stroke-width="0.9" />
<line x1="617.35" y1="346.9" x2="617.35" y2="348.1" stroke="#000" stroke-width="0.9" />
<line x1="636.85" y1="346.9" x2="636.85" y2="348.1" stroke="#000" stroke-width="0.9" />
<text x="549.1" y="356.8" font-size="9" text-anchor="middle" fill="#000" >0</text>
<text x="568.6" y="356.8" font-size="9" text-anchor="middle" fill="#000" >25</text>
<text x="588.1" y="356.8" font-size="9" text-anchor="middle" fill="#000" >50</text>
<text x="607.6" y="356.8" font-size="9" text-anchor="middle" fill="#000" >75</text>
<text x="627.1" y="356.8" font-size="9" text-anchor="middle" fill="#000" >100</text>
<text x="540.0" y="365.4" font-size="9">The Fraction of CO<tspan font-size="6.2" dy="2">2</tspan><tspan dy="-2"> (%)</tspan></text>
<text transform="translate(519.6 299.4) rotate(-90)" font-size="9" text-anchor="middle">Time (s)</text>
<rect x="546.8" y="270.1" width="5" height="5" fill="#454545"/>
<rect x="566.1" y="281.5" width="5" height="5" fill="#454545"/>
<rect x="585.4" y="312" width="5" height="5" fill="#454545"/>
<rect x="624.2" y="327.7" width="5" height="5" fill="#454545"/>
<line x1="541.3" y1="267.5" x2="634.6" y2="341" stroke="#E8C84E" stroke-width="1.8" />
</svg>
</div></body></html>
